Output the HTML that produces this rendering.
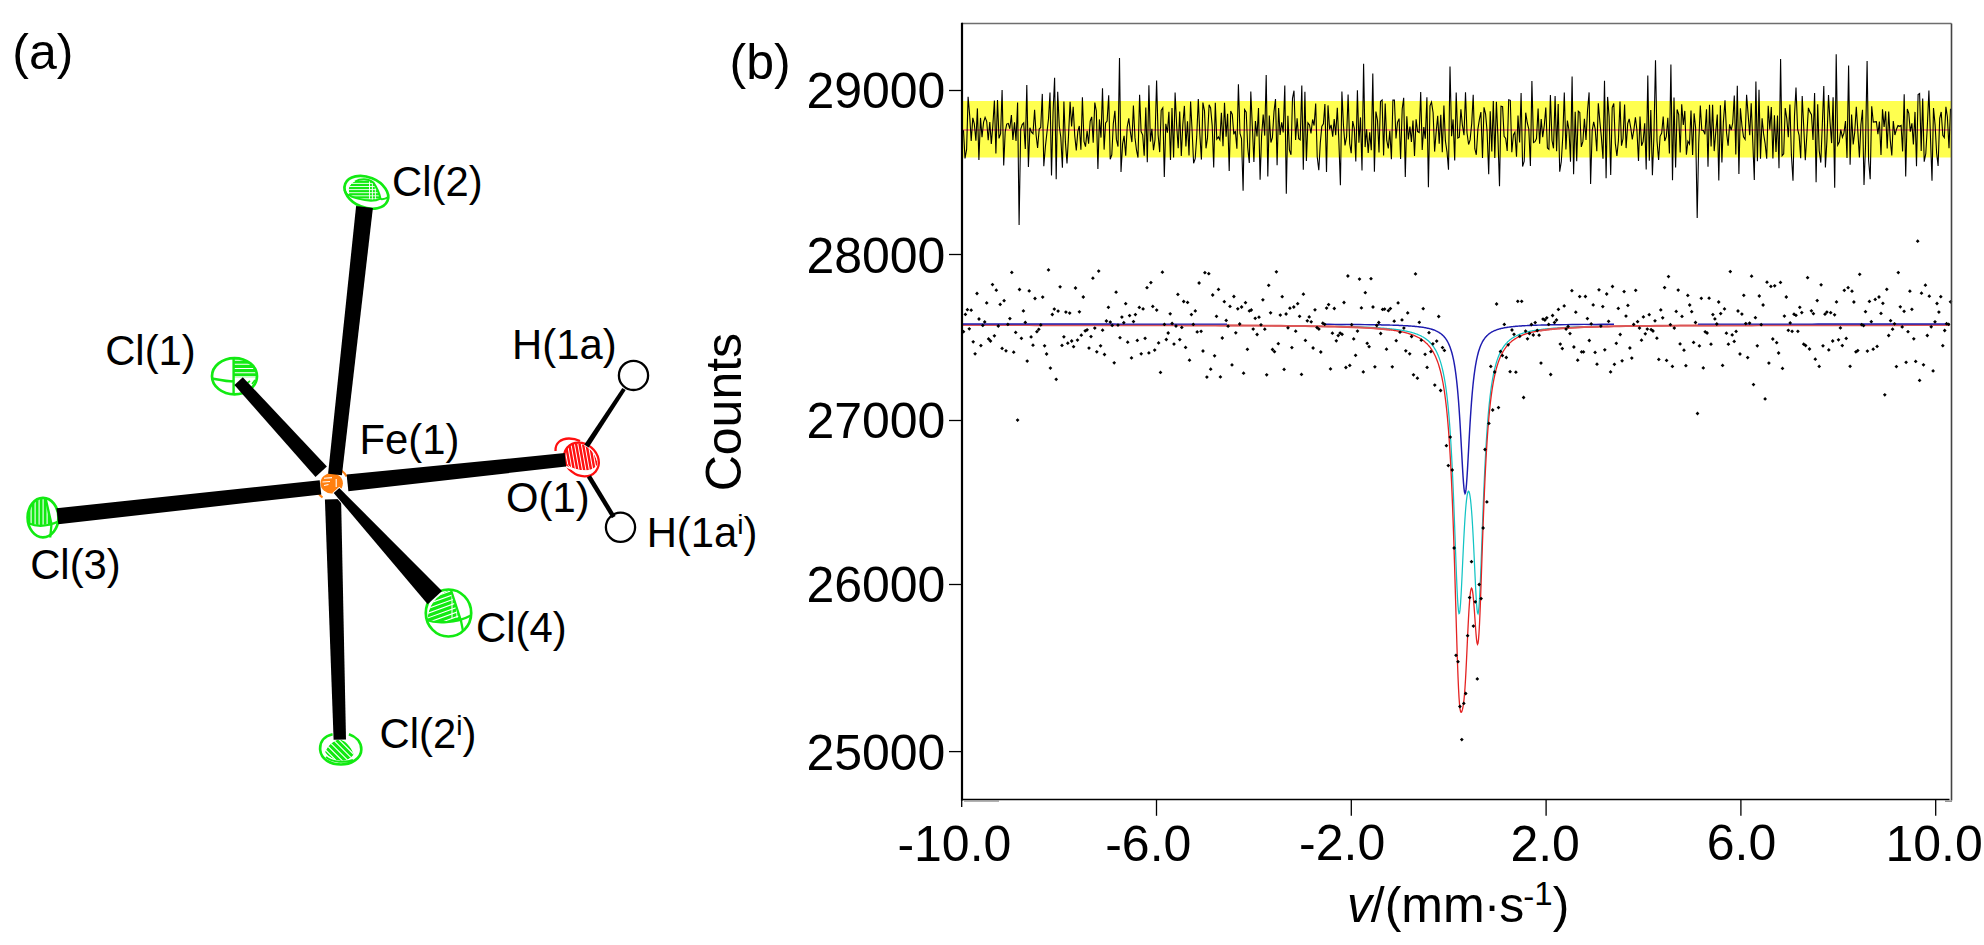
<!DOCTYPE html>
<html><head><meta charset="utf-8"><title>Figure</title><style>html,body{margin:0;padding:0;background:#fff;overflow:hidden}svg{display:block}</style></head><body>
<svg width="1984" height="945" viewBox="0 0 1984 945">
<rect width="1984" height="945" fill="#fff"/>
<rect x="963" y="101" width="988.5" height="56.5" fill="#ffff4f"/>
<line x1="963" y1="130" x2="1950.5" y2="130" stroke="#f06a6a" stroke-width="1.4"/>
<polyline fill="none" stroke="#000" stroke-width="1.1" points="963.5,130.2 965.0,158.5 966.6,149.4 968.1,96.8 969.7,115.7 971.2,141.0 972.8,117.9 974.3,123.8 975.9,140.8 977.4,108.4 978.9,160.0 980.5,117.9 982.0,137.1 983.6,122.0 985.1,117.3 986.7,121.3 988.2,140.2 989.8,122.0 991.3,143.9 992.8,126.1 994.4,100.6 995.9,153.5 997.5,99.9 999.0,138.4 1000.6,133.6 1002.1,89.9 1003.7,165.6 1005.2,131.8 1006.7,124.1 1008.3,123.4 1009.8,128.8 1011.4,115.0 1012.9,140.0 1014.5,122.4 1016.0,140.9 1017.6,102.5 1019.1,225.0 1020.7,129.3 1022.2,124.6 1023.7,122.8 1025.3,149.0 1026.8,85.1 1028.4,166.9 1029.9,127.8 1031.5,132.2 1033.0,133.7 1034.6,109.7 1036.1,135.0 1037.6,148.0 1039.2,129.0 1040.7,127.5 1042.3,93.9 1043.8,166.2 1045.4,146.5 1046.9,132.9 1048.5,118.7 1050.0,92.6 1051.5,175.6 1053.1,111.6 1054.6,77.7 1056.2,179.2 1057.7,91.7 1059.3,126.2 1060.8,137.3 1062.4,167.8 1063.9,101.4 1065.4,141.9 1067.0,163.4 1068.5,136.1 1070.1,101.9 1071.6,126.5 1073.2,106.7 1074.7,135.4 1076.3,150.4 1077.8,131.7 1079.3,126.0 1080.9,149.7 1082.4,97.2 1084.0,141.3 1085.5,146.7 1087.1,130.8 1088.6,143.7 1090.2,121.2 1091.7,116.9 1093.2,142.8 1094.8,102.5 1096.3,110.8 1097.9,169.1 1099.4,119.4 1101.0,137.6 1102.5,88.3 1104.1,149.6 1105.6,123.0 1107.1,121.1 1108.7,95.3 1110.2,159.3 1111.8,154.8 1113.3,123.7 1114.9,110.8 1116.4,139.4 1118.0,146.6 1119.5,58.1 1121.0,172.0 1122.6,143.8 1124.1,135.9 1125.7,155.7 1127.2,127.0 1128.8,118.4 1130.3,131.5 1131.9,142.1 1133.4,105.6 1135.0,137.9 1136.5,150.2 1138.0,157.6 1139.6,94.8 1141.1,131.5 1142.7,135.1 1144.2,155.8 1145.8,107.6 1147.3,162.2 1148.9,85.3 1150.4,141.6 1151.9,128.7 1153.5,150.2 1155.0,139.8 1156.6,80.5 1158.1,134.7 1159.7,152.1 1161.2,110.3 1162.8,107.8 1164.3,177.1 1165.8,123.8 1167.4,132.7 1168.9,111.7 1170.5,159.9 1172.0,108.1 1173.6,157.6 1175.1,92.5 1176.7,126.3 1178.2,148.3 1179.7,111.5 1181.3,156.0 1182.8,124.7 1184.4,105.9 1185.9,146.5 1187.5,121.2 1189.0,155.5 1190.6,101.5 1192.1,130.8 1193.6,163.3 1195.2,158.7 1196.7,136.9 1198.3,99.0 1199.8,133.7 1201.4,159.6 1202.9,102.5 1204.5,110.9 1206.0,148.3 1207.5,137.9 1209.1,104.8 1210.6,107.9 1212.2,125.6 1213.7,167.6 1215.3,102.8 1216.8,139.2 1218.4,136.9 1219.9,139.9 1221.4,112.7 1223.0,146.2 1224.5,102.7 1226.1,136.6 1227.6,113.7 1229.2,171.0 1230.7,111.1 1232.3,114.5 1233.8,134.4 1235.3,130.9 1236.9,148.7 1238.4,84.2 1240.0,133.4 1241.5,138.6 1243.1,190.8 1244.6,109.6 1246.2,112.1 1247.7,147.2 1249.3,162.9 1250.8,91.6 1252.3,125.9 1253.9,162.1 1255.4,121.0 1257.0,136.5 1258.5,108.1 1260.1,179.8 1261.6,135.8 1263.2,114.5 1264.7,135.6 1266.2,75.1 1267.8,176.6 1269.3,115.5 1270.9,142.5 1272.4,137.7 1274.0,111.6 1275.5,99.0 1277.1,165.3 1278.6,108.0 1280.1,134.9 1281.7,122.3 1283.2,132.4 1284.8,85.6 1286.3,193.7 1287.9,115.8 1289.4,149.9 1291.0,154.8 1292.5,98.4 1294.0,90.7 1295.6,139.9 1297.1,118.4 1298.7,138.7 1300.2,139.9 1301.8,85.5 1303.3,169.8 1304.9,91.8 1306.4,160.9 1307.9,122.8 1309.5,125.0 1311.0,133.5 1312.6,119.5 1314.1,125.5 1315.7,103.6 1317.2,156.6 1318.8,170.3 1320.3,142.9 1321.8,126.5 1323.4,123.8 1324.9,104.0 1326.5,172.1 1328.0,105.4 1329.6,129.4 1331.1,124.8 1332.7,136.7 1334.2,119.1 1335.7,135.2 1337.3,107.9 1338.8,139.5 1340.4,185.3 1341.9,91.6 1343.5,126.0 1345.0,145.4 1346.6,136.7 1348.1,94.5 1349.7,143.6 1351.2,153.2 1352.7,121.0 1354.3,128.3 1355.8,161.6 1357.4,90.2 1358.9,142.8 1360.5,117.4 1362.0,170.6 1363.6,63.7 1365.1,147.1 1366.6,129.4 1368.2,152.9 1369.7,132.3 1371.3,150.3 1372.8,73.4 1374.4,171.7 1375.9,111.5 1377.5,120.4 1379.0,152.4 1380.5,101.4 1382.1,100.0 1383.6,155.6 1385.2,103.6 1386.7,140.2 1388.3,148.5 1389.8,130.7 1391.4,159.2 1392.9,100.0 1394.4,100.1 1396.0,138.5 1397.5,122.4 1399.1,118.6 1400.6,159.1 1402.2,109.0 1403.7,97.7 1405.3,177.1 1406.8,116.3 1408.3,139.5 1409.9,126.5 1411.4,141.9 1413.0,120.6 1414.5,156.1 1416.1,119.2 1417.6,131.6 1419.2,132.5 1420.7,91.9 1422.2,150.0 1423.8,127.1 1425.3,138.7 1426.9,97.3 1428.4,187.3 1430.0,105.8 1431.5,102.1 1433.1,112.7 1434.6,151.6 1436.1,132.6 1437.7,115.9 1439.2,143.6 1440.8,114.7 1442.3,152.3 1443.9,105.4 1445.4,140.9 1447.0,151.8 1448.5,169.7 1450.0,66.6 1451.6,136.3 1453.1,119.4 1454.7,160.5 1456.2,92.5 1457.8,138.1 1459.3,137.2 1460.9,109.3 1462.4,125.2 1464.0,135.2 1465.5,92.3 1467.0,132.8 1468.6,144.5 1470.1,139.9 1471.7,123.6 1473.2,94.7 1474.8,148.7 1476.3,154.8 1477.9,129.1 1479.4,119.3 1480.9,112.1 1482.5,158.0 1484.0,107.3 1485.6,114.1 1487.1,131.6 1488.7,174.3 1490.2,111.3 1491.8,151.5 1493.3,100.9 1494.8,158.0 1496.4,101.8 1497.9,136.3 1499.5,186.3 1501.0,106.3 1502.6,106.7 1504.1,136.3 1505.7,138.4 1507.2,150.9 1508.7,99.8 1510.3,100.3 1511.8,152.2 1513.4,134.9 1514.9,132.1 1516.5,156.7 1518.0,115.5 1519.6,142.4 1521.1,93.0 1522.6,166.6 1524.2,161.2 1525.7,112.7 1527.3,123.0 1528.8,129.2 1530.4,166.1 1531.9,81.0 1533.5,142.6 1535.0,141.7 1536.5,138.6 1538.1,108.5 1539.6,143.7 1541.2,119.0 1542.7,137.1 1544.3,125.2 1545.8,107.5 1547.4,148.0 1548.9,149.3 1550.4,94.9 1552.0,140.5 1553.5,148.3 1555.1,96.1 1556.6,151.3 1558.2,104.1 1559.7,171.7 1561.3,161.6 1562.8,136.2 1564.3,92.5 1565.9,149.5 1567.4,120.6 1569.0,130.2 1570.5,161.8 1572.1,76.4 1573.6,174.2 1575.2,111.8 1576.7,161.2 1578.3,111.2 1579.8,112.4 1581.3,146.9 1582.9,141.4 1584.4,118.8 1586.0,140.0 1587.5,110.8 1589.1,92.4 1590.6,184.0 1592.2,130.5 1593.7,121.9 1595.2,129.1 1596.8,151.3 1598.3,103.3 1599.9,122.1 1601.4,137.4 1603.0,158.7 1604.5,80.8 1606.1,178.2 1607.6,96.9 1609.1,116.6 1610.7,175.0 1612.2,107.5 1613.8,103.5 1615.3,143.3 1616.9,155.9 1618.4,140.7 1620.0,101.5 1621.5,145.7 1623.0,138.8 1624.6,104.5 1626.1,148.1 1627.7,123.6 1629.2,118.9 1630.8,128.1 1632.3,139.4 1633.9,129.6 1635.4,117.3 1636.9,130.0 1638.5,160.9 1640.0,116.6 1641.6,145.7 1643.1,141.6 1644.7,123.2 1646.2,169.5 1647.8,75.4 1649.3,160.8 1650.8,110.0 1652.4,175.2 1653.9,136.7 1655.5,60.2 1657.0,140.7 1658.6,160.0 1660.1,136.3 1661.7,133.1 1663.2,116.5 1664.7,141.0 1666.3,136.7 1667.8,117.7 1669.4,153.5 1670.9,64.6 1672.5,180.3 1674.0,97.4 1675.6,167.5 1677.1,109.5 1678.7,114.5 1680.2,152.5 1681.7,104.3 1683.3,125.0 1684.8,110.9 1686.4,154.8 1687.9,141.2 1689.5,144.0 1691.0,110.4 1692.6,154.9 1694.1,113.4 1695.6,127.7 1697.2,218.0 1698.7,143.6 1700.3,105.5 1701.8,130.3 1703.4,130.5 1704.9,134.4 1706.5,109.2 1708.0,166.8 1709.5,104.7 1711.1,146.5 1712.6,104.7 1714.2,151.1 1715.7,132.6 1717.3,114.6 1718.8,180.5 1720.4,105.3 1721.9,162.4 1723.4,121.9 1725.0,100.2 1726.5,132.5 1728.1,145.6 1729.6,124.3 1731.2,130.1 1732.7,123.0 1734.3,95.6 1735.8,154.4 1737.3,85.7 1738.9,174.0 1740.4,108.3 1742.0,126.3 1743.5,136.9 1745.1,139.4 1746.6,94.7 1748.2,115.4 1749.7,135.3 1751.2,103.2 1752.8,142.2 1754.3,180.0 1755.9,81.4 1757.4,161.2 1759.0,89.8 1760.5,158.7 1762.1,118.2 1763.6,133.9 1765.1,143.3 1766.7,158.7 1768.2,105.8 1769.8,129.5 1771.3,107.0 1772.9,158.4 1774.4,115.2 1776.0,152.0 1777.5,115.6 1779.0,168.3 1780.6,59.0 1782.1,155.7 1783.7,153.8 1785.2,108.1 1786.8,118.6 1788.3,137.1 1789.9,104.5 1791.4,154.9 1793.0,180.8 1794.5,115.2 1796.0,87.5 1797.6,129.1 1799.1,135.4 1800.7,158.3 1802.2,96.0 1803.8,128.4 1805.3,160.3 1806.9,134.3 1808.4,107.9 1809.9,111.9 1811.5,114.6 1813.0,140.0 1814.6,93.1 1816.1,182.3 1817.7,104.2 1819.2,150.6 1820.8,162.6 1822.3,125.1 1823.8,86.1 1825.4,167.4 1826.9,140.9 1828.5,95.1 1830.0,121.5 1831.6,143.1 1833.1,97.2 1834.7,187.7 1836.2,54.2 1837.7,145.1 1839.3,142.1 1840.8,129.5 1842.4,137.3 1843.9,133.2 1845.5,121.0 1847.0,158.0 1848.6,65.4 1850.1,164.7 1851.6,114.6 1853.2,144.4 1854.7,132.6 1856.3,106.7 1857.8,130.9 1859.4,157.5 1860.9,124.7 1862.5,109.7 1864.0,185.1 1865.5,146.8 1867.1,61.0 1868.6,160.2 1870.2,179.3 1871.7,106.3 1873.3,122.1 1874.8,121.9 1876.4,121.7 1877.9,134.2 1879.4,121.5 1881.0,155.0 1882.5,109.3 1884.1,126.9 1885.6,111.2 1887.2,148.4 1888.7,111.5 1890.3,140.6 1891.8,155.4 1893.3,121.0 1894.9,135.0 1896.4,129.5 1898.0,125.5 1899.5,126.3 1901.1,125.4 1902.6,151.4 1904.2,94.3 1905.7,176.5 1907.3,109.0 1908.8,113.3 1910.3,131.6 1911.9,123.3 1913.4,144.4 1915.0,111.9 1916.5,166.3 1918.1,94.6 1919.6,93.6 1921.2,151.0 1922.7,98.5 1924.2,161.7 1925.8,153.5 1927.3,126.8 1928.9,90.6 1930.4,135.2 1932.0,180.8 1933.5,108.1 1935.1,124.9 1936.6,152.7 1938.1,165.9 1939.7,118.3 1941.2,112.0 1942.8,135.4 1944.3,137.6 1945.9,106.8 1947.4,117.1 1949.0,148.3 1950.5,108.7"/>
<polyline fill="none" stroke="#12c4c4" stroke-width="1.25" points="1335.0,326.3 1341.0,326.4 1347.0,326.5 1353.0,326.7 1359.0,326.9 1365.0,327.1 1371.0,327.4 1377.0,327.7 1380.0,327.9 1380.5,328.0 1381.0,328.0 1381.5,328.1 1382.0,328.1 1382.5,328.1 1383.0,328.2 1383.5,328.2 1384.0,328.2 1384.5,328.3 1385.0,328.3 1385.5,328.4 1386.0,328.4 1386.5,328.4 1387.0,328.5 1387.5,328.5 1388.0,328.6 1388.5,328.6 1389.0,328.7 1389.5,328.7 1390.0,328.8 1390.5,328.8 1391.0,328.9 1391.5,328.9 1392.0,329.0 1392.5,329.0 1393.0,329.1 1393.5,329.1 1394.0,329.2 1394.5,329.3 1395.0,329.3 1395.5,329.4 1396.0,329.4 1396.5,329.5 1397.0,329.6 1397.5,329.6 1398.0,329.7 1398.5,329.8 1399.0,329.9 1399.5,329.9 1400.0,330.0 1400.5,330.1 1401.0,330.2 1401.5,330.2 1402.0,330.3 1402.5,330.4 1403.0,330.5 1403.5,330.6 1404.0,330.7 1404.5,330.8 1405.0,330.9 1405.5,331.0 1406.0,331.1 1406.5,331.2 1407.0,331.3 1407.5,331.4 1408.0,331.5 1408.5,331.6 1409.0,331.7 1409.5,331.9 1410.0,332.0 1410.5,332.1 1411.0,332.2 1411.5,332.4 1412.0,332.5 1412.5,332.7 1413.0,332.8 1413.5,333.0 1414.0,333.1 1414.5,333.3 1415.0,333.5 1415.5,333.6 1416.0,333.8 1416.5,334.0 1417.0,334.2 1417.5,334.4 1418.0,334.6 1418.5,334.8 1419.0,335.0 1419.5,335.2 1420.0,335.5 1420.5,335.7 1421.0,335.9 1421.5,336.2 1422.0,336.5 1422.5,336.7 1423.0,337.0 1423.5,337.3 1424.0,337.6 1424.5,338.0 1425.0,338.3 1425.5,338.6 1426.0,339.0 1426.5,339.4 1427.0,339.8 1427.5,340.2 1428.0,340.6 1428.5,341.0 1429.0,341.5 1429.5,342.0 1430.0,342.5 1430.5,343.0 1431.0,343.6 1431.5,344.1 1432.0,344.7 1432.5,345.4 1433.0,346.0 1433.5,346.7 1434.0,347.5 1434.5,348.3 1435.0,349.1 1435.5,349.9 1436.0,350.8 1436.5,351.8 1437.0,352.8 1437.5,353.9 1438.0,355.0 1438.5,356.3 1439.0,357.5 1439.5,358.9 1440.0,360.4 1440.5,361.9 1441.0,363.6 1441.5,365.4 1442.0,367.3 1442.5,369.3 1443.0,371.5 1443.5,373.8 1444.0,376.4 1444.5,379.1 1445.0,382.0 1445.5,385.2 1446.0,388.6 1446.5,392.4 1447.0,396.4 1447.5,400.8 1448.0,405.6 1448.5,410.9 1449.0,416.6 1449.5,422.8 1450.0,429.6 1450.5,437.0 1451.0,445.0 1451.5,453.8 1452.0,463.3 1452.5,473.7 1453.0,484.8 1453.5,496.6 1454.0,509.2 1454.5,522.4 1455.0,536.0 1455.5,549.7 1456.0,563.2 1456.5,576.1 1457.0,587.9 1457.5,598.0 1458.0,605.9 1458.5,611.2 1459.0,613.6 1459.5,613.2 1460.0,609.9 1460.5,604.1 1461.0,596.3 1461.5,587.0 1462.0,576.7 1462.5,566.0 1463.0,555.2 1463.5,544.8 1464.0,535.1 1464.5,526.1 1465.0,518.0 1465.5,511.0 1466.0,505.0 1466.5,500.1 1467.0,496.3 1467.5,493.5 1468.0,491.8 1468.5,491.2 1469.0,491.7 1469.5,493.2 1470.0,495.8 1470.5,499.4 1471.0,504.2 1471.5,510.0 1472.0,516.8 1472.5,524.7 1473.0,533.6 1473.5,543.2 1474.0,553.5 1474.5,564.2 1475.0,575.0 1475.5,585.4 1476.0,594.9 1476.5,603.0 1477.0,609.1 1477.5,612.8 1478.0,613.8 1478.5,611.8 1479.0,606.9 1479.5,599.4 1480.0,589.6 1480.5,578.1 1481.0,565.4 1481.5,551.9 1482.0,538.2 1482.5,524.5 1483.0,511.3 1483.5,498.6 1484.0,486.6 1484.5,475.4 1485.0,464.9 1485.5,455.3 1486.0,446.4 1486.5,438.2 1487.0,430.7 1487.5,423.8 1488.0,417.5 1488.5,411.7 1489.0,406.4 1489.5,401.6 1490.0,397.1 1490.5,393.0 1491.0,389.2 1491.5,385.7 1492.0,382.5 1492.5,379.5 1493.0,376.8 1493.5,374.2 1494.0,371.8 1494.5,369.6 1495.0,367.6 1495.5,365.7 1496.0,363.9 1496.5,362.2 1497.0,360.6 1497.5,359.1 1498.0,357.8 1498.5,356.5 1499.0,355.2 1499.5,354.1 1500.0,353.0 1500.5,352.0 1501.0,351.0 1501.5,350.1 1502.0,349.2 1502.5,348.4 1503.0,347.6 1503.5,346.9 1504.0,346.1 1504.5,345.5 1505.0,344.8 1505.5,344.2 1506.0,343.6 1506.5,343.1 1507.0,342.6 1507.5,342.0 1508.0,341.6 1508.5,341.1 1509.0,340.7 1509.5,340.2 1510.0,339.8 1510.5,339.4 1511.0,339.1 1511.5,338.7 1512.0,338.3 1512.5,338.0 1513.0,337.7 1513.5,337.4 1514.0,337.1 1514.5,336.8 1515.0,336.5 1515.5,336.2 1516.0,336.0 1516.5,335.7 1517.0,335.5 1517.5,335.3 1518.0,335.0 1518.5,334.8 1519.0,334.6 1519.5,334.4 1520.0,334.2 1520.5,334.0 1521.0,333.8 1521.5,333.7 1522.0,333.5 1522.5,333.3 1523.0,333.2 1523.5,333.0 1524.0,332.8 1524.5,332.7 1525.0,332.5 1525.5,332.4 1526.0,332.3 1526.5,332.1 1527.0,332.0 1527.5,331.9 1528.0,331.8 1528.5,331.6 1529.0,331.5 1529.5,331.4 1530.0,331.3 1530.5,331.2 1531.0,331.1 1531.5,331.0 1532.0,330.9 1532.5,330.8 1533.0,330.7 1533.5,330.6 1534.0,330.5 1534.5,330.4 1535.0,330.3 1535.5,330.3 1536.0,330.2 1536.5,330.1 1537.0,330.0 1537.5,329.9 1538.0,329.9 1538.5,329.8 1539.0,329.7 1539.5,329.7 1540.0,329.6 1540.5,329.5 1541.0,329.5 1541.5,329.4 1542.0,329.3 1542.5,329.3 1543.0,329.2 1543.5,329.2 1544.0,329.1 1544.5,329.0 1545.0,329.0 1545.5,328.9 1546.0,328.9 1546.5,328.8 1547.0,328.8 1547.5,328.7 1548.0,328.7 1548.5,328.6 1549.0,328.6 1549.5,328.5 1550.0,328.5 1550.5,328.5 1551.0,328.4 1551.5,328.4 1552.0,328.3 1552.5,328.3 1553.0,328.2 1553.5,328.2 1554.0,328.2 1554.5,328.1 1555.0,328.1 1555.5,328.1 1556.0,328.0 1556.5,328.0 1557.0,328.0 1557.5,327.9 1558.0,327.9 1558.5,327.8 1559.0,327.8 1559.5,327.8 1560.0,327.8 1566.0,327.4 1572.0,327.1 1578.0,326.9 1584.0,326.7 1590.0,326.5 1596.0,326.4 1602.0,326.3 1608.0,326.2"/>
<polyline fill="none" stroke="#e42222" stroke-width="1.3" points="963.0,325.1 969.0,325.1 975.0,325.1 981.0,325.1 987.0,325.1 993.0,325.1 999.0,325.1 1005.0,325.1 1011.0,325.1 1017.0,325.1 1023.0,325.1 1029.0,325.1 1035.0,325.2 1041.0,325.2 1047.0,325.2 1053.0,325.2 1059.0,325.2 1065.0,325.2 1071.0,325.2 1077.0,325.2 1083.0,325.2 1089.0,325.2 1095.0,325.2 1101.0,325.2 1107.0,325.2 1113.0,325.2 1119.0,325.2 1125.0,325.2 1131.0,325.3 1137.0,325.3 1143.0,325.3 1149.0,325.3 1155.0,325.3 1161.0,325.3 1167.0,325.3 1173.0,325.3 1179.0,325.3 1185.0,325.4 1191.0,325.4 1197.0,325.4 1203.0,325.4 1209.0,325.4 1215.0,325.4 1221.0,325.5 1227.0,325.5 1233.0,325.5 1239.0,325.5 1245.0,325.6 1251.0,325.6 1257.0,325.6 1263.0,325.7 1269.0,325.7 1275.0,325.8 1281.0,325.8 1287.0,325.9 1293.0,325.9 1299.0,326.0 1305.0,326.1 1311.0,326.2 1317.0,326.3 1323.0,326.4 1329.0,326.5 1335.0,326.6 1341.0,326.8 1347.0,327.0 1353.0,327.2 1359.0,327.4 1365.0,327.7 1371.0,328.1 1377.0,328.5 1380.0,328.8 1380.5,328.8 1381.0,328.9 1381.5,328.9 1382.0,329.0 1382.5,329.0 1383.0,329.1 1383.5,329.1 1384.0,329.2 1384.5,329.2 1385.0,329.3 1385.5,329.3 1386.0,329.4 1386.5,329.4 1387.0,329.5 1387.5,329.5 1388.0,329.6 1388.5,329.6 1389.0,329.7 1389.5,329.8 1390.0,329.8 1390.5,329.9 1391.0,330.0 1391.5,330.0 1392.0,330.1 1392.5,330.2 1393.0,330.2 1393.5,330.3 1394.0,330.4 1394.5,330.5 1395.0,330.5 1395.5,330.6 1396.0,330.7 1396.5,330.8 1397.0,330.9 1397.5,331.0 1398.0,331.0 1398.5,331.1 1399.0,331.2 1399.5,331.3 1400.0,331.4 1400.5,331.5 1401.0,331.6 1401.5,331.7 1402.0,331.8 1402.5,331.9 1403.0,332.1 1403.5,332.2 1404.0,332.3 1404.5,332.4 1405.0,332.5 1405.5,332.7 1406.0,332.8 1406.5,332.9 1407.0,333.1 1407.5,333.2 1408.0,333.3 1408.5,333.5 1409.0,333.6 1409.5,333.8 1410.0,334.0 1410.5,334.1 1411.0,334.3 1411.5,334.5 1412.0,334.6 1412.5,334.8 1413.0,335.0 1413.5,335.2 1414.0,335.4 1414.5,335.6 1415.0,335.8 1415.5,336.1 1416.0,336.3 1416.5,336.5 1417.0,336.8 1417.5,337.0 1418.0,337.3 1418.5,337.5 1419.0,337.8 1419.5,338.1 1420.0,338.4 1420.5,338.7 1421.0,339.0 1421.5,339.3 1422.0,339.7 1422.5,340.0 1423.0,340.4 1423.5,340.7 1424.0,341.1 1424.5,341.5 1425.0,342.0 1425.5,342.4 1426.0,342.9 1426.5,343.3 1427.0,343.8 1427.5,344.3 1428.0,344.9 1428.5,345.4 1429.0,346.0 1429.5,346.6 1430.0,347.2 1430.5,347.9 1431.0,348.6 1431.5,349.3 1432.0,350.1 1432.5,350.9 1433.0,351.7 1433.5,352.6 1434.0,353.5 1434.5,354.5 1435.0,355.5 1435.5,356.6 1436.0,357.7 1436.5,358.9 1437.0,360.2 1437.5,361.5 1438.0,362.9 1438.5,364.4 1439.0,366.0 1439.5,367.7 1440.0,369.5 1440.5,371.4 1441.0,373.4 1441.5,375.6 1442.0,377.9 1442.5,380.4 1443.0,383.0 1443.5,385.9 1444.0,388.9 1444.5,392.2 1445.0,395.8 1445.5,399.6 1446.0,403.8 1446.5,408.3 1447.0,413.1 1447.5,418.4 1448.0,424.1 1448.5,430.3 1449.0,437.1 1449.5,444.5 1450.0,452.6 1450.5,461.3 1451.0,470.9 1451.5,481.3 1452.0,492.6 1452.5,504.9 1453.0,518.1 1453.5,532.3 1454.0,547.4 1454.5,563.4 1455.0,580.1 1455.5,597.3 1456.0,614.6 1456.5,631.6 1457.0,647.9 1457.5,663.1 1458.0,676.6 1458.5,688.0 1459.0,697.2 1459.5,704.0 1460.0,708.6 1460.5,711.3 1461.0,712.3 1461.5,712.2 1462.0,711.1 1462.5,709.4 1463.0,706.9 1463.5,703.7 1464.0,699.6 1464.5,694.3 1465.0,687.7 1465.5,679.7 1466.0,670.4 1466.5,660.3 1467.0,649.5 1467.5,638.6 1468.0,628.1 1468.5,618.3 1469.0,609.5 1469.5,602.1 1470.0,596.1 1470.5,591.8 1471.0,589.1 1471.5,588.1 1472.0,588.7 1472.5,590.9 1473.0,594.6 1473.5,599.6 1474.0,605.7 1474.5,612.5 1475.0,619.8 1475.5,627.0 1476.0,633.6 1476.5,639.1 1477.0,642.9 1477.5,644.4 1478.0,643.4 1478.5,639.6 1479.0,633.1 1479.5,624.1 1480.0,612.9 1480.5,600.1 1481.0,586.1 1481.5,571.6 1482.0,556.8 1482.5,542.3 1483.0,528.1 1483.5,514.6 1484.0,501.9 1484.5,489.9 1485.0,478.8 1485.5,468.6 1486.0,459.1 1486.5,450.4 1487.0,442.3 1487.5,435.0 1488.0,428.2 1488.5,422.0 1489.0,416.3 1489.5,411.1 1490.0,406.3 1490.5,401.8 1491.0,397.7 1491.5,393.9 1492.0,390.4 1492.5,387.2 1493.0,384.2 1493.5,381.3 1494.0,378.7 1494.5,376.3 1495.0,374.0 1495.5,371.9 1496.0,369.9 1496.5,368.1 1497.0,366.3 1497.5,364.7 1498.0,363.1 1498.5,361.7 1499.0,360.3 1499.5,359.0 1500.0,357.8 1500.5,356.6 1501.0,355.5 1501.5,354.5 1502.0,353.5 1502.5,352.6 1503.0,351.7 1503.5,350.8 1504.0,350.0 1504.5,349.3 1505.0,348.5 1505.5,347.8 1506.0,347.2 1506.5,346.5 1507.0,345.9 1507.5,345.3 1508.0,344.8 1508.5,344.2 1509.0,343.7 1509.5,343.2 1510.0,342.7 1510.5,342.3 1511.0,341.9 1511.5,341.4 1512.0,341.0 1512.5,340.6 1513.0,340.3 1513.5,339.9 1514.0,339.6 1514.5,339.2 1515.0,338.9 1515.5,338.6 1516.0,338.3 1516.5,338.0 1517.0,337.7 1517.5,337.4 1518.0,337.2 1518.5,336.9 1519.0,336.7 1519.5,336.4 1520.0,336.2 1520.5,336.0 1521.0,335.7 1521.5,335.5 1522.0,335.3 1522.5,335.1 1523.0,334.9 1523.5,334.7 1524.0,334.6 1524.5,334.4 1525.0,334.2 1525.5,334.0 1526.0,333.9 1526.5,333.7 1527.0,333.6 1527.5,333.4 1528.0,333.3 1528.5,333.1 1529.0,333.0 1529.5,332.9 1530.0,332.7 1530.5,332.6 1531.0,332.5 1531.5,332.3 1532.0,332.2 1532.5,332.1 1533.0,332.0 1533.5,331.9 1534.0,331.8 1534.5,331.7 1535.0,331.6 1535.5,331.5 1536.0,331.4 1536.5,331.3 1537.0,331.2 1537.5,331.1 1538.0,331.0 1538.5,330.9 1539.0,330.8 1539.5,330.7 1540.0,330.7 1540.5,330.6 1541.0,330.5 1541.5,330.4 1542.0,330.3 1542.5,330.3 1543.0,330.2 1543.5,330.1 1544.0,330.1 1544.5,330.0 1545.0,329.9 1545.5,329.9 1546.0,329.8 1546.5,329.7 1547.0,329.7 1547.5,329.6 1548.0,329.6 1548.5,329.5 1549.0,329.4 1549.5,329.4 1550.0,329.3 1550.5,329.3 1551.0,329.2 1551.5,329.2 1552.0,329.1 1552.5,329.1 1553.0,329.0 1553.5,329.0 1554.0,328.9 1554.5,328.9 1555.0,328.8 1555.5,328.8 1556.0,328.7 1556.5,328.7 1557.0,328.7 1557.5,328.6 1558.0,328.6 1558.5,328.5 1559.0,328.5 1559.5,328.5 1560.0,328.4 1566.0,328.0 1572.0,327.7 1578.0,327.4 1584.0,327.1 1590.0,326.9 1596.0,326.8 1602.0,326.6 1608.0,326.5 1614.0,326.3 1620.0,326.2 1626.0,326.1 1632.0,326.1 1638.0,326.0 1644.0,325.9 1650.0,325.9 1656.0,325.8 1662.0,325.8 1668.0,325.7 1674.0,325.7 1680.0,325.6 1686.0,325.6 1692.0,325.6 1698.0,325.5 1704.0,325.5 1710.0,325.5 1716.0,325.5 1722.0,325.4 1728.0,325.4 1734.0,325.4 1740.0,325.4 1746.0,325.4 1752.0,325.4 1758.0,325.3 1764.0,325.3 1770.0,325.3 1776.0,325.3 1782.0,325.3 1788.0,325.3 1794.0,325.3 1800.0,325.3 1806.0,325.2 1812.0,325.2 1818.0,325.2 1824.0,325.2 1830.0,325.2 1836.0,325.2 1842.0,325.2 1848.0,325.2 1854.0,325.2 1860.0,325.2 1866.0,325.2 1872.0,325.2 1878.0,325.2 1884.0,325.2 1890.0,325.2 1896.0,325.2 1902.0,325.2 1908.0,325.1 1914.0,325.1 1920.0,325.1 1926.0,325.1 1932.0,325.1 1938.0,325.1 1944.0,325.1 1949.5,325.1"/>
<polyline fill="none" stroke="#dc5656" stroke-width="2.0" points="963.0,325.1 969.0,325.1 975.0,325.1 981.0,325.1 987.0,325.1 993.0,325.1 999.0,325.1 1005.0,325.1 1011.0,325.1 1017.0,325.1 1023.0,325.1 1029.0,325.1 1035.0,325.2 1041.0,325.2 1047.0,325.2 1053.0,325.2 1059.0,325.2 1065.0,325.2 1071.0,325.2 1077.0,325.2 1083.0,325.2 1089.0,325.2 1095.0,325.2 1101.0,325.2 1107.0,325.2 1113.0,325.2 1119.0,325.2 1125.0,325.2 1131.0,325.3 1137.0,325.3 1143.0,325.3 1149.0,325.3 1155.0,325.3 1161.0,325.3 1167.0,325.3 1173.0,325.3 1179.0,325.3 1185.0,325.4 1191.0,325.4 1197.0,325.4 1203.0,325.4 1209.0,325.4 1215.0,325.4 1221.0,325.5 1227.0,325.5 1233.0,325.5 1239.0,325.5 1245.0,325.6 1251.0,325.6 1257.0,325.6 1263.0,325.7 1269.0,325.7 1275.0,325.8 1281.0,325.8 1287.0,325.9 1293.0,325.9 1299.0,326.0 1305.0,326.1 1311.0,326.2 1317.0,326.3 1323.0,326.4 1329.0,326.5 1335.0,326.6 1341.0,326.8 1347.0,327.0 1353.0,327.2 1359.0,327.4 1365.0,327.7 1371.0,328.1 1377.0,328.5 1380.0,328.8 1380.5,328.8 1381.0,328.9 1381.5,328.9 1382.0,329.0 1382.5,329.0 1383.0,329.1 1383.5,329.1 1384.0,329.2 1384.5,329.2 1385.0,329.3 1385.5,329.3 1386.0,329.4 1386.5,329.4 1387.0,329.5 1387.5,329.5 1388.0,329.6 1388.5,329.6 1389.0,329.7 1389.5,329.8 1390.0,329.8"/>
<polyline fill="none" stroke="#dc5656" stroke-width="2.0" points="1540.0,330.7 1540.5,330.6 1541.0,330.5 1541.5,330.4 1542.0,330.3 1542.5,330.3 1543.0,330.2 1543.5,330.1 1544.0,330.1 1544.5,330.0 1545.0,329.9 1545.5,329.9 1546.0,329.8 1546.5,329.7 1547.0,329.7 1547.5,329.6 1548.0,329.6 1548.5,329.5 1549.0,329.4 1549.5,329.4 1550.0,329.3 1550.5,329.3 1551.0,329.2 1551.5,329.2 1552.0,329.1 1552.5,329.1 1553.0,329.0 1553.5,329.0 1554.0,328.9 1554.5,328.9 1555.0,328.8 1555.5,328.8 1556.0,328.7 1556.5,328.7 1557.0,328.7 1557.5,328.6 1558.0,328.6 1558.5,328.5 1559.0,328.5 1559.5,328.5 1560.0,328.4 1566.0,328.0 1572.0,327.7 1578.0,327.4 1584.0,327.1 1590.0,326.9 1596.0,326.8 1602.0,326.6 1608.0,326.5 1614.0,326.3 1620.0,326.2 1626.0,326.1 1632.0,326.1 1638.0,326.0 1644.0,325.9 1650.0,325.9 1656.0,325.8 1662.0,325.8 1668.0,325.7 1674.0,325.7 1680.0,325.6 1686.0,325.6 1692.0,325.6 1698.0,325.5 1704.0,325.5 1710.0,325.5 1716.0,325.5 1722.0,325.4 1728.0,325.4 1734.0,325.4 1740.0,325.4 1746.0,325.4 1752.0,325.4 1758.0,325.3 1764.0,325.3 1770.0,325.3 1776.0,325.3 1782.0,325.3 1788.0,325.3 1794.0,325.3 1800.0,325.3 1806.0,325.2 1812.0,325.2 1818.0,325.2 1824.0,325.2 1830.0,325.2 1836.0,325.2 1842.0,325.2 1848.0,325.2 1854.0,325.2 1860.0,325.2 1866.0,325.2 1872.0,325.2 1878.0,325.2 1884.0,325.2 1890.0,325.2 1896.0,325.2 1902.0,325.2 1908.0,325.1 1914.0,325.1 1920.0,325.1 1926.0,325.1 1932.0,325.1 1938.0,325.1 1944.0,325.1 1949.5,325.1"/>
<polyline fill="none" stroke="#1e1cb0" stroke-width="1.45" points="963.0,324.0 969.0,324.0 975.0,324.0 981.0,324.0 987.0,324.0 993.0,324.0 999.0,324.0 1005.0,324.0 1011.0,324.0 1017.0,324.0 1023.0,324.0 1029.0,324.0 1035.0,324.0 1041.0,324.0 1047.0,324.0 1053.0,324.0 1059.0,324.0 1065.0,324.0 1071.0,324.0 1077.0,324.0 1083.0,324.0 1089.0,324.0 1095.0,324.0 1101.0,324.0 1107.0,324.0 1113.0,324.0 1119.0,324.1 1125.0,324.1 1131.0,324.1 1137.0,324.1 1143.0,324.1 1149.0,324.1 1155.0,324.1 1161.0,324.1 1167.0,324.1 1173.0,324.1 1179.0,324.1 1185.0,324.1 1191.0,324.1 1197.0,324.1 1203.0,324.1 1209.0,324.1 1215.0,324.1 1221.0,324.1 1227.0,324.1"/>
<polyline fill="none" stroke="#1e1cb0" stroke-width="1.45" points="1323.0,324.3 1329.0,324.3 1335.0,324.4 1341.0,324.4 1347.0,324.4 1353.0,324.5 1359.0,324.5 1365.0,324.6 1371.0,324.7 1377.0,324.8 1380.0,324.8 1380.5,324.8 1381.0,324.8 1381.5,324.9 1382.0,324.9 1382.5,324.9 1383.0,324.9 1383.5,324.9 1384.0,324.9 1384.5,324.9 1385.0,324.9 1385.5,324.9 1386.0,325.0 1386.5,325.0 1387.0,325.0 1387.5,325.0 1388.0,325.0 1388.5,325.0 1389.0,325.0 1389.5,325.0 1390.0,325.1 1390.5,325.1 1391.0,325.1 1391.5,325.1 1392.0,325.1 1392.5,325.1 1393.0,325.2 1393.5,325.2 1394.0,325.2 1394.5,325.2 1395.0,325.2 1395.5,325.2 1396.0,325.3 1396.5,325.3 1397.0,325.3 1397.5,325.3 1398.0,325.3 1398.5,325.3 1399.0,325.4 1399.5,325.4 1400.0,325.4 1400.5,325.4 1401.0,325.5 1401.5,325.5 1402.0,325.5 1402.5,325.5 1403.0,325.6 1403.5,325.6 1404.0,325.6 1404.5,325.6 1405.0,325.7 1405.5,325.7 1406.0,325.7 1406.5,325.7 1407.0,325.8 1407.5,325.8 1408.0,325.8 1408.5,325.9 1409.0,325.9 1409.5,325.9 1410.0,326.0 1410.5,326.0 1411.0,326.0 1411.5,326.1 1412.0,326.1 1412.5,326.2 1413.0,326.2 1413.5,326.2 1414.0,326.3 1414.5,326.3 1415.0,326.4 1415.5,326.4 1416.0,326.5 1416.5,326.5 1417.0,326.6 1417.5,326.6 1418.0,326.7 1418.5,326.7 1419.0,326.8 1419.5,326.9 1420.0,326.9 1420.5,327.0 1421.0,327.0 1421.5,327.1 1422.0,327.2 1422.5,327.3 1423.0,327.3 1423.5,327.4 1424.0,327.5 1424.5,327.6 1425.0,327.7 1425.5,327.8 1426.0,327.9 1426.5,328.0 1427.0,328.1 1427.5,328.2 1428.0,328.3 1428.5,328.4 1429.0,328.5 1429.5,328.6 1430.0,328.8 1430.5,328.9 1431.0,329.0 1431.5,329.2 1432.0,329.3 1432.5,329.5 1433.0,329.7 1433.5,329.8 1434.0,330.0 1434.5,330.2 1435.0,330.4 1435.5,330.6 1436.0,330.9 1436.5,331.1 1437.0,331.3 1437.5,331.6 1438.0,331.9 1438.5,332.1 1439.0,332.4 1439.5,332.8 1440.0,333.1 1440.5,333.4 1441.0,333.8 1441.5,334.2 1442.0,334.6 1442.5,335.1 1443.0,335.5 1443.5,336.1 1444.0,336.6 1444.5,337.2 1445.0,337.8 1445.5,338.4 1446.0,339.1 1446.5,339.9 1447.0,340.7 1447.5,341.5 1448.0,342.5 1448.5,343.5 1449.0,344.6 1449.5,345.7 1450.0,347.0 1450.5,348.4 1451.0,349.9 1451.5,351.5 1452.0,353.3 1452.5,355.2 1453.0,357.3 1453.5,359.7 1454.0,362.2 1454.5,365.0 1455.0,368.1 1455.5,371.6 1456.0,375.3 1456.5,379.5 1457.0,384.1 1457.5,389.1 1458.0,394.7 1458.5,400.8 1459.0,407.5 1459.5,414.9 1460.0,422.7 1460.5,431.2 1461.0,440.1 1461.5,449.2 1462.0,458.4 1462.5,467.4 1463.0,475.7 1463.5,482.9 1464.0,488.5 1464.5,492.2 1465.0,493.6 1465.5,492.7 1466.0,489.4 1466.5,484.2 1467.0,477.2 1467.5,469.1 1468.0,460.3 1468.5,451.1 1469.0,441.9 1469.5,432.9 1470.0,424.4 1470.5,416.4 1471.0,409.0 1471.5,402.1 1472.0,395.9 1472.5,390.2 1473.0,385.0 1473.5,380.4 1474.0,376.1 1474.5,372.3 1475.0,368.8 1475.5,365.6 1476.0,362.8 1476.5,360.2 1477.0,357.8 1477.5,355.6 1478.0,353.7 1478.5,351.8 1479.0,350.2 1479.5,348.7 1480.0,347.3 1480.5,346.0 1481.0,344.8 1481.5,343.7 1482.0,342.7 1482.5,341.7 1483.0,340.8 1483.5,340.0 1484.0,339.3 1484.5,338.6 1485.0,337.9 1485.5,337.3 1486.0,336.7 1486.5,336.2 1487.0,335.6 1487.5,335.2 1488.0,334.7 1488.5,334.3 1489.0,333.9 1489.5,333.5 1490.0,333.2 1490.5,332.8 1491.0,332.5 1491.5,332.2 1492.0,331.9 1492.5,331.6 1493.0,331.4 1493.5,331.1 1494.0,330.9 1494.5,330.7 1495.0,330.5 1495.5,330.3 1496.0,330.1 1496.5,329.9 1497.0,329.7 1497.5,329.5 1498.0,329.4 1498.5,329.2 1499.0,329.1 1499.5,328.9 1500.0,328.8 1500.5,328.7 1501.0,328.5 1501.5,328.4 1502.0,328.3 1502.5,328.2 1503.0,328.1 1503.5,328.0 1504.0,327.9 1504.5,327.8 1505.0,327.7 1505.5,327.6 1506.0,327.5 1506.5,327.4 1507.0,327.4 1507.5,327.3 1508.0,327.2 1508.5,327.1 1509.0,327.1 1509.5,327.0 1510.0,326.9 1510.5,326.9 1511.0,326.8 1511.5,326.7 1512.0,326.7 1512.5,326.6 1513.0,326.6 1513.5,326.5 1514.0,326.5 1514.5,326.4 1515.0,326.4 1515.5,326.3 1516.0,326.3 1516.5,326.2 1517.0,326.2 1517.5,326.2 1518.0,326.1 1518.5,326.1 1519.0,326.0 1519.5,326.0 1520.0,326.0 1520.5,325.9 1521.0,325.9 1521.5,325.9 1522.0,325.8 1522.5,325.8 1523.0,325.8 1523.5,325.7 1524.0,325.7 1524.5,325.7 1525.0,325.7 1525.5,325.6 1526.0,325.6 1526.5,325.6 1527.0,325.6 1527.5,325.5 1528.0,325.5 1528.5,325.5 1529.0,325.5 1529.5,325.4 1530.0,325.4 1530.5,325.4 1531.0,325.4 1531.5,325.4 1532.0,325.3 1532.5,325.3 1533.0,325.3 1533.5,325.3 1534.0,325.3 1534.5,325.2 1535.0,325.2 1535.5,325.2 1536.0,325.2 1536.5,325.2 1537.0,325.2 1537.5,325.1 1538.0,325.1 1538.5,325.1 1539.0,325.1 1539.5,325.1 1540.0,325.1 1540.5,325.1 1541.0,325.0 1541.5,325.0 1542.0,325.0 1542.5,325.0 1543.0,325.0 1543.5,325.0 1544.0,325.0 1544.5,324.9 1545.0,324.9 1545.5,324.9 1546.0,324.9 1546.5,324.9 1547.0,324.9 1547.5,324.9 1548.0,324.9 1548.5,324.9 1549.0,324.9 1549.5,324.8 1550.0,324.8 1550.5,324.8 1551.0,324.8 1551.5,324.8 1552.0,324.8 1552.5,324.8 1553.0,324.8 1553.5,324.8 1554.0,324.8 1554.5,324.7 1555.0,324.7 1555.5,324.7 1556.0,324.7 1556.5,324.7 1557.0,324.7 1557.5,324.7 1558.0,324.7 1558.5,324.7 1559.0,324.7 1559.5,324.7 1560.0,324.7 1566.0,324.6 1572.0,324.5 1578.0,324.5 1584.0,324.4 1590.0,324.4 1596.0,324.4 1602.0,324.3 1608.0,324.3 1614.0,324.3"/>
<polyline fill="none" stroke="#1e1cb0" stroke-width="1.45" points="1698.0,324.1 1704.0,324.1 1710.0,324.1 1716.0,324.1 1722.0,324.1 1728.0,324.1 1734.0,324.1 1740.0,324.1 1746.0,324.1 1752.0,324.1 1758.0,324.1 1764.0,324.1 1770.0,324.1 1776.0,324.1 1782.0,324.1 1788.0,324.1 1794.0,324.1 1800.0,324.1 1806.0,324.1 1812.0,324.1 1818.0,324.0 1824.0,324.0 1830.0,324.0 1836.0,324.0 1842.0,324.0 1848.0,324.0 1854.0,324.0 1860.0,324.0 1866.0,324.0 1872.0,324.0 1878.0,324.0 1884.0,324.0 1890.0,324.0 1896.0,324.0 1902.0,324.0 1908.0,324.0 1914.0,324.0 1920.0,324.0 1926.0,324.0 1932.0,324.0 1938.0,324.0 1944.0,324.0 1949.5,324.0"/>
<path d="M961.6 331.7l1.9 -1.9l1.9 1.9l-1.9 1.9zM963.5 314.4l1.9 -1.9l1.9 1.9l-1.9 1.9zM965.5 309.7l1.9 -1.9l1.9 1.9l-1.9 1.9zM967.4 328.8l1.9 -1.9l1.9 1.9l-1.9 1.9zM969.3 310.2l1.9 -1.9l1.9 1.9l-1.9 1.9zM971.3 341.8l1.9 -1.9l1.9 1.9l-1.9 1.9zM973.2 353.8l1.9 -1.9l1.9 1.9l-1.9 1.9zM975.1 293.5l1.9 -1.9l1.9 1.9l-1.9 1.9zM977.1 319.0l1.9 -1.9l1.9 1.9l-1.9 1.9zM979.0 345.6l1.9 -1.9l1.9 1.9l-1.9 1.9zM980.9 325.4l1.9 -1.9l1.9 1.9l-1.9 1.9zM982.8 321.9l1.9 -1.9l1.9 1.9l-1.9 1.9zM984.8 302.9l1.9 -1.9l1.9 1.9l-1.9 1.9zM986.7 338.9l1.9 -1.9l1.9 1.9l-1.9 1.9zM988.6 341.0l1.9 -1.9l1.9 1.9l-1.9 1.9zM990.6 284.6l1.9 -1.9l1.9 1.9l-1.9 1.9zM992.5 335.8l1.9 -1.9l1.9 1.9l-1.9 1.9zM994.4 290.2l1.9 -1.9l1.9 1.9l-1.9 1.9zM996.4 326.0l1.9 -1.9l1.9 1.9l-1.9 1.9zM998.3 304.4l1.9 -1.9l1.9 1.9l-1.9 1.9zM1000.2 348.4l1.9 -1.9l1.9 1.9l-1.9 1.9zM1002.2 300.7l1.9 -1.9l1.9 1.9l-1.9 1.9zM1004.1 350.8l1.9 -1.9l1.9 1.9l-1.9 1.9zM1006.0 324.4l1.9 -1.9l1.9 1.9l-1.9 1.9zM1008.0 318.6l1.9 -1.9l1.9 1.9l-1.9 1.9zM1009.9 272.4l1.9 -1.9l1.9 1.9l-1.9 1.9zM1011.8 352.2l1.9 -1.9l1.9 1.9l-1.9 1.9zM1013.8 332.4l1.9 -1.9l1.9 1.9l-1.9 1.9zM1015.7 420.1l1.9 -1.9l1.9 1.9l-1.9 1.9zM1017.6 289.5l1.9 -1.9l1.9 1.9l-1.9 1.9zM1019.5 338.3l1.9 -1.9l1.9 1.9l-1.9 1.9zM1021.5 310.9l1.9 -1.9l1.9 1.9l-1.9 1.9zM1023.4 322.4l1.9 -1.9l1.9 1.9l-1.9 1.9zM1025.3 361.1l1.9 -1.9l1.9 1.9l-1.9 1.9zM1027.3 290.9l1.9 -1.9l1.9 1.9l-1.9 1.9zM1029.2 336.9l1.9 -1.9l1.9 1.9l-1.9 1.9zM1031.1 345.2l1.9 -1.9l1.9 1.9l-1.9 1.9zM1033.1 298.5l1.9 -1.9l1.9 1.9l-1.9 1.9zM1035.0 331.7l1.9 -1.9l1.9 1.9l-1.9 1.9zM1036.9 329.3l1.9 -1.9l1.9 1.9l-1.9 1.9zM1038.9 324.9l1.9 -1.9l1.9 1.9l-1.9 1.9zM1040.8 297.1l1.9 -1.9l1.9 1.9l-1.9 1.9zM1042.7 345.8l1.9 -1.9l1.9 1.9l-1.9 1.9zM1044.7 354.0l1.9 -1.9l1.9 1.9l-1.9 1.9zM1046.6 269.9l1.9 -1.9l1.9 1.9l-1.9 1.9zM1048.5 368.1l1.9 -1.9l1.9 1.9l-1.9 1.9zM1050.4 314.5l1.9 -1.9l1.9 1.9l-1.9 1.9zM1052.4 309.1l1.9 -1.9l1.9 1.9l-1.9 1.9zM1054.3 379.3l1.9 -1.9l1.9 1.9l-1.9 1.9zM1056.2 311.1l1.9 -1.9l1.9 1.9l-1.9 1.9zM1058.2 286.8l1.9 -1.9l1.9 1.9l-1.9 1.9zM1060.1 345.4l1.9 -1.9l1.9 1.9l-1.9 1.9zM1062.0 336.8l1.9 -1.9l1.9 1.9l-1.9 1.9zM1064.0 312.1l1.9 -1.9l1.9 1.9l-1.9 1.9zM1065.9 343.2l1.9 -1.9l1.9 1.9l-1.9 1.9zM1067.8 313.1l1.9 -1.9l1.9 1.9l-1.9 1.9zM1069.8 341.0l1.9 -1.9l1.9 1.9l-1.9 1.9zM1071.7 346.7l1.9 -1.9l1.9 1.9l-1.9 1.9zM1073.6 288.0l1.9 -1.9l1.9 1.9l-1.9 1.9zM1075.6 340.1l1.9 -1.9l1.9 1.9l-1.9 1.9zM1077.5 311.8l1.9 -1.9l1.9 1.9l-1.9 1.9zM1079.4 335.2l1.9 -1.9l1.9 1.9l-1.9 1.9zM1081.4 297.0l1.9 -1.9l1.9 1.9l-1.9 1.9zM1083.3 330.8l1.9 -1.9l1.9 1.9l-1.9 1.9zM1085.2 329.8l1.9 -1.9l1.9 1.9l-1.9 1.9zM1087.1 348.1l1.9 -1.9l1.9 1.9l-1.9 1.9zM1089.1 336.6l1.9 -1.9l1.9 1.9l-1.9 1.9zM1091.0 278.2l1.9 -1.9l1.9 1.9l-1.9 1.9zM1092.9 328.1l1.9 -1.9l1.9 1.9l-1.9 1.9zM1094.9 351.8l1.9 -1.9l1.9 1.9l-1.9 1.9zM1096.8 271.1l1.9 -1.9l1.9 1.9l-1.9 1.9zM1098.7 345.8l1.9 -1.9l1.9 1.9l-1.9 1.9zM1100.7 330.2l1.9 -1.9l1.9 1.9l-1.9 1.9zM1102.6 354.5l1.9 -1.9l1.9 1.9l-1.9 1.9zM1104.5 321.0l1.9 -1.9l1.9 1.9l-1.9 1.9zM1106.5 307.3l1.9 -1.9l1.9 1.9l-1.9 1.9zM1108.4 322.1l1.9 -1.9l1.9 1.9l-1.9 1.9zM1110.3 325.4l1.9 -1.9l1.9 1.9l-1.9 1.9zM1112.3 362.8l1.9 -1.9l1.9 1.9l-1.9 1.9zM1114.2 292.2l1.9 -1.9l1.9 1.9l-1.9 1.9zM1116.1 325.1l1.9 -1.9l1.9 1.9l-1.9 1.9zM1118.1 337.7l1.9 -1.9l1.9 1.9l-1.9 1.9zM1120.0 317.1l1.9 -1.9l1.9 1.9l-1.9 1.9zM1121.9 322.7l1.9 -1.9l1.9 1.9l-1.9 1.9zM1123.8 303.7l1.9 -1.9l1.9 1.9l-1.9 1.9zM1125.8 342.2l1.9 -1.9l1.9 1.9l-1.9 1.9zM1127.7 315.6l1.9 -1.9l1.9 1.9l-1.9 1.9zM1129.6 357.9l1.9 -1.9l1.9 1.9l-1.9 1.9zM1131.6 321.6l1.9 -1.9l1.9 1.9l-1.9 1.9zM1133.5 314.6l1.9 -1.9l1.9 1.9l-1.9 1.9zM1135.4 340.4l1.9 -1.9l1.9 1.9l-1.9 1.9zM1137.4 307.4l1.9 -1.9l1.9 1.9l-1.9 1.9zM1139.3 353.8l1.9 -1.9l1.9 1.9l-1.9 1.9zM1141.2 308.9l1.9 -1.9l1.9 1.9l-1.9 1.9zM1143.2 338.3l1.9 -1.9l1.9 1.9l-1.9 1.9zM1145.1 287.7l1.9 -1.9l1.9 1.9l-1.9 1.9zM1147.0 352.9l1.9 -1.9l1.9 1.9l-1.9 1.9zM1149.0 282.6l1.9 -1.9l1.9 1.9l-1.9 1.9zM1150.9 306.4l1.9 -1.9l1.9 1.9l-1.9 1.9zM1152.8 350.1l1.9 -1.9l1.9 1.9l-1.9 1.9zM1154.8 310.1l1.9 -1.9l1.9 1.9l-1.9 1.9zM1156.7 342.9l1.9 -1.9l1.9 1.9l-1.9 1.9zM1158.6 372.4l1.9 -1.9l1.9 1.9l-1.9 1.9zM1160.5 272.2l1.9 -1.9l1.9 1.9l-1.9 1.9zM1162.5 324.4l1.9 -1.9l1.9 1.9l-1.9 1.9zM1164.4 339.5l1.9 -1.9l1.9 1.9l-1.9 1.9zM1166.3 333.0l1.9 -1.9l1.9 1.9l-1.9 1.9zM1168.3 313.8l1.9 -1.9l1.9 1.9l-1.9 1.9zM1170.2 323.5l1.9 -1.9l1.9 1.9l-1.9 1.9zM1172.1 344.1l1.9 -1.9l1.9 1.9l-1.9 1.9zM1174.1 326.0l1.9 -1.9l1.9 1.9l-1.9 1.9zM1176.0 294.4l1.9 -1.9l1.9 1.9l-1.9 1.9zM1177.9 339.6l1.9 -1.9l1.9 1.9l-1.9 1.9zM1179.9 327.4l1.9 -1.9l1.9 1.9l-1.9 1.9zM1181.8 301.5l1.9 -1.9l1.9 1.9l-1.9 1.9zM1183.7 347.4l1.9 -1.9l1.9 1.9l-1.9 1.9zM1185.7 302.4l1.9 -1.9l1.9 1.9l-1.9 1.9zM1187.6 360.2l1.9 -1.9l1.9 1.9l-1.9 1.9zM1189.5 314.6l1.9 -1.9l1.9 1.9l-1.9 1.9zM1191.4 324.4l1.9 -1.9l1.9 1.9l-1.9 1.9zM1193.4 310.9l1.9 -1.9l1.9 1.9l-1.9 1.9zM1195.3 331.9l1.9 -1.9l1.9 1.9l-1.9 1.9zM1197.2 283.0l1.9 -1.9l1.9 1.9l-1.9 1.9zM1199.2 331.3l1.9 -1.9l1.9 1.9l-1.9 1.9zM1201.1 351.0l1.9 -1.9l1.9 1.9l-1.9 1.9zM1203.0 272.7l1.9 -1.9l1.9 1.9l-1.9 1.9zM1205.0 377.1l1.9 -1.9l1.9 1.9l-1.9 1.9zM1206.9 273.7l1.9 -1.9l1.9 1.9l-1.9 1.9zM1208.8 369.2l1.9 -1.9l1.9 1.9l-1.9 1.9zM1210.8 295.0l1.9 -1.9l1.9 1.9l-1.9 1.9zM1212.7 355.8l1.9 -1.9l1.9 1.9l-1.9 1.9zM1214.6 316.3l1.9 -1.9l1.9 1.9l-1.9 1.9zM1216.6 289.4l1.9 -1.9l1.9 1.9l-1.9 1.9zM1218.5 376.9l1.9 -1.9l1.9 1.9l-1.9 1.9zM1220.4 338.0l1.9 -1.9l1.9 1.9l-1.9 1.9zM1222.4 301.7l1.9 -1.9l1.9 1.9l-1.9 1.9zM1224.3 320.4l1.9 -1.9l1.9 1.9l-1.9 1.9zM1226.2 326.2l1.9 -1.9l1.9 1.9l-1.9 1.9zM1228.1 306.4l1.9 -1.9l1.9 1.9l-1.9 1.9zM1230.1 364.9l1.9 -1.9l1.9 1.9l-1.9 1.9zM1232.0 296.5l1.9 -1.9l1.9 1.9l-1.9 1.9zM1233.9 332.8l1.9 -1.9l1.9 1.9l-1.9 1.9zM1235.9 308.8l1.9 -1.9l1.9 1.9l-1.9 1.9zM1237.8 324.0l1.9 -1.9l1.9 1.9l-1.9 1.9zM1239.7 307.0l1.9 -1.9l1.9 1.9l-1.9 1.9zM1241.7 373.2l1.9 -1.9l1.9 1.9l-1.9 1.9zM1243.6 302.7l1.9 -1.9l1.9 1.9l-1.9 1.9zM1245.5 349.3l1.9 -1.9l1.9 1.9l-1.9 1.9zM1247.5 310.9l1.9 -1.9l1.9 1.9l-1.9 1.9zM1249.4 310.0l1.9 -1.9l1.9 1.9l-1.9 1.9zM1251.3 329.1l1.9 -1.9l1.9 1.9l-1.9 1.9zM1253.3 318.3l1.9 -1.9l1.9 1.9l-1.9 1.9zM1255.2 334.5l1.9 -1.9l1.9 1.9l-1.9 1.9zM1257.1 317.2l1.9 -1.9l1.9 1.9l-1.9 1.9zM1259.1 324.8l1.9 -1.9l1.9 1.9l-1.9 1.9zM1261.0 299.8l1.9 -1.9l1.9 1.9l-1.9 1.9zM1262.9 329.2l1.9 -1.9l1.9 1.9l-1.9 1.9zM1264.8 374.8l1.9 -1.9l1.9 1.9l-1.9 1.9zM1266.8 285.3l1.9 -1.9l1.9 1.9l-1.9 1.9zM1268.7 312.8l1.9 -1.9l1.9 1.9l-1.9 1.9zM1270.6 349.5l1.9 -1.9l1.9 1.9l-1.9 1.9zM1272.6 351.7l1.9 -1.9l1.9 1.9l-1.9 1.9zM1274.5 271.8l1.9 -1.9l1.9 1.9l-1.9 1.9zM1276.4 343.7l1.9 -1.9l1.9 1.9l-1.9 1.9zM1278.4 315.1l1.9 -1.9l1.9 1.9l-1.9 1.9zM1280.3 296.7l1.9 -1.9l1.9 1.9l-1.9 1.9zM1282.2 369.4l1.9 -1.9l1.9 1.9l-1.9 1.9zM1284.2 314.0l1.9 -1.9l1.9 1.9l-1.9 1.9zM1286.1 327.8l1.9 -1.9l1.9 1.9l-1.9 1.9zM1288.0 308.2l1.9 -1.9l1.9 1.9l-1.9 1.9zM1290.0 347.6l1.9 -1.9l1.9 1.9l-1.9 1.9zM1291.9 307.0l1.9 -1.9l1.9 1.9l-1.9 1.9zM1293.8 331.2l1.9 -1.9l1.9 1.9l-1.9 1.9zM1295.8 303.7l1.9 -1.9l1.9 1.9l-1.9 1.9zM1297.7 316.3l1.9 -1.9l1.9 1.9l-1.9 1.9zM1299.6 374.4l1.9 -1.9l1.9 1.9l-1.9 1.9zM1301.5 294.2l1.9 -1.9l1.9 1.9l-1.9 1.9zM1303.5 340.4l1.9 -1.9l1.9 1.9l-1.9 1.9zM1305.4 320.8l1.9 -1.9l1.9 1.9l-1.9 1.9zM1307.3 316.9l1.9 -1.9l1.9 1.9l-1.9 1.9zM1309.3 321.8l1.9 -1.9l1.9 1.9l-1.9 1.9zM1311.2 348.0l1.9 -1.9l1.9 1.9l-1.9 1.9zM1313.1 309.8l1.9 -1.9l1.9 1.9l-1.9 1.9zM1315.1 327.6l1.9 -1.9l1.9 1.9l-1.9 1.9zM1317.0 329.1l1.9 -1.9l1.9 1.9l-1.9 1.9zM1318.9 352.0l1.9 -1.9l1.9 1.9l-1.9 1.9zM1320.9 323.2l1.9 -1.9l1.9 1.9l-1.9 1.9zM1322.8 324.3l1.9 -1.9l1.9 1.9l-1.9 1.9zM1324.7 308.1l1.9 -1.9l1.9 1.9l-1.9 1.9zM1326.7 304.6l1.9 -1.9l1.9 1.9l-1.9 1.9zM1328.6 368.9l1.9 -1.9l1.9 1.9l-1.9 1.9zM1330.5 333.2l1.9 -1.9l1.9 1.9l-1.9 1.9zM1332.4 308.5l1.9 -1.9l1.9 1.9l-1.9 1.9zM1334.4 340.8l1.9 -1.9l1.9 1.9l-1.9 1.9zM1336.3 335.6l1.9 -1.9l1.9 1.9l-1.9 1.9zM1338.2 333.1l1.9 -1.9l1.9 1.9l-1.9 1.9zM1340.2 334.3l1.9 -1.9l1.9 1.9l-1.9 1.9zM1342.1 302.5l1.9 -1.9l1.9 1.9l-1.9 1.9zM1344.0 367.5l1.9 -1.9l1.9 1.9l-1.9 1.9zM1346.0 276.0l1.9 -1.9l1.9 1.9l-1.9 1.9zM1347.9 365.4l1.9 -1.9l1.9 1.9l-1.9 1.9zM1349.8 324.7l1.9 -1.9l1.9 1.9l-1.9 1.9zM1351.8 338.9l1.9 -1.9l1.9 1.9l-1.9 1.9zM1353.7 355.3l1.9 -1.9l1.9 1.9l-1.9 1.9zM1355.6 331.1l1.9 -1.9l1.9 1.9l-1.9 1.9zM1357.6 279.1l1.9 -1.9l1.9 1.9l-1.9 1.9zM1359.5 307.9l1.9 -1.9l1.9 1.9l-1.9 1.9zM1361.4 371.9l1.9 -1.9l1.9 1.9l-1.9 1.9zM1363.4 292.7l1.9 -1.9l1.9 1.9l-1.9 1.9zM1365.3 343.3l1.9 -1.9l1.9 1.9l-1.9 1.9zM1367.2 346.7l1.9 -1.9l1.9 1.9l-1.9 1.9zM1369.1 278.7l1.9 -1.9l1.9 1.9l-1.9 1.9zM1371.1 307.0l1.9 -1.9l1.9 1.9l-1.9 1.9zM1373.0 366.8l1.9 -1.9l1.9 1.9l-1.9 1.9zM1374.9 325.5l1.9 -1.9l1.9 1.9l-1.9 1.9zM1376.9 322.5l1.9 -1.9l1.9 1.9l-1.9 1.9zM1378.8 333.5l1.9 -1.9l1.9 1.9l-1.9 1.9zM1380.7 309.4l1.9 -1.9l1.9 1.9l-1.9 1.9zM1382.7 309.1l1.9 -1.9l1.9 1.9l-1.9 1.9zM1384.6 349.2l1.9 -1.9l1.9 1.9l-1.9 1.9zM1386.5 310.7l1.9 -1.9l1.9 1.9l-1.9 1.9zM1388.5 308.6l1.9 -1.9l1.9 1.9l-1.9 1.9zM1390.4 366.8l1.9 -1.9l1.9 1.9l-1.9 1.9zM1392.3 321.2l1.9 -1.9l1.9 1.9l-1.9 1.9zM1394.3 340.7l1.9 -1.9l1.9 1.9l-1.9 1.9zM1396.2 302.9l1.9 -1.9l1.9 1.9l-1.9 1.9zM1398.1 332.2l1.9 -1.9l1.9 1.9l-1.9 1.9zM1400.1 319.9l1.9 -1.9l1.9 1.9l-1.9 1.9zM1402.0 328.1l1.9 -1.9l1.9 1.9l-1.9 1.9zM1403.9 350.8l1.9 -1.9l1.9 1.9l-1.9 1.9zM1405.8 312.9l1.9 -1.9l1.9 1.9l-1.9 1.9zM1407.8 353.8l1.9 -1.9l1.9 1.9l-1.9 1.9zM1409.7 336.5l1.9 -1.9l1.9 1.9l-1.9 1.9zM1411.6 374.8l1.9 -1.9l1.9 1.9l-1.9 1.9zM1413.6 273.9l1.9 -1.9l1.9 1.9l-1.9 1.9zM1415.5 378.2l1.9 -1.9l1.9 1.9l-1.9 1.9zM1417.4 322.3l1.9 -1.9l1.9 1.9l-1.9 1.9zM1419.4 340.2l1.9 -1.9l1.9 1.9l-1.9 1.9zM1421.3 308.7l1.9 -1.9l1.9 1.9l-1.9 1.9zM1423.2 354.3l1.9 -1.9l1.9 1.9l-1.9 1.9zM1425.2 367.4l1.9 -1.9l1.9 1.9l-1.9 1.9zM1427.1 332.7l1.9 -1.9l1.9 1.9l-1.9 1.9zM1429.0 351.6l1.9 -1.9l1.9 1.9l-1.9 1.9zM1431.0 343.8l1.9 -1.9l1.9 1.9l-1.9 1.9zM1432.9 385.1l1.9 -1.9l1.9 1.9l-1.9 1.9zM1434.8 341.1l1.9 -1.9l1.9 1.9l-1.9 1.9zM1436.8 316.5l1.9 -1.9l1.9 1.9l-1.9 1.9zM1438.7 390.5l1.9 -1.9l1.9 1.9l-1.9 1.9zM1440.6 347.6l1.9 -1.9l1.9 1.9l-1.9 1.9zM1442.5 350.4l1.9 -1.9l1.9 1.9l-1.9 1.9zM1444.5 445.7l1.9 -1.9l1.9 1.9l-1.9 1.9zM1446.4 465.6l1.9 -1.9l1.9 1.9l-1.9 1.9zM1448.3 437.1l1.9 -1.9l1.9 1.9l-1.9 1.9zM1450.3 470.0l1.9 -1.9l1.9 1.9l-1.9 1.9zM1452.2 548.0l1.9 -1.9l1.9 1.9l-1.9 1.9zM1454.1 655.3l1.9 -1.9l1.9 1.9l-1.9 1.9zM1456.1 661.7l1.9 -1.9l1.9 1.9l-1.9 1.9zM1458.0 706.5l1.9 -1.9l1.9 1.9l-1.9 1.9zM1459.9 739.6l1.9 -1.9l1.9 1.9l-1.9 1.9zM1461.9 703.4l1.9 -1.9l1.9 1.9l-1.9 1.9zM1463.8 693.5l1.9 -1.9l1.9 1.9l-1.9 1.9zM1465.7 635.7l1.9 -1.9l1.9 1.9l-1.9 1.9zM1467.7 597.6l1.9 -1.9l1.9 1.9l-1.9 1.9zM1469.6 561.7l1.9 -1.9l1.9 1.9l-1.9 1.9zM1471.5 626.1l1.9 -1.9l1.9 1.9l-1.9 1.9zM1473.4 601.8l1.9 -1.9l1.9 1.9l-1.9 1.9zM1475.4 678.9l1.9 -1.9l1.9 1.9l-1.9 1.9zM1477.3 584.5l1.9 -1.9l1.9 1.9l-1.9 1.9zM1479.2 598.6l1.9 -1.9l1.9 1.9l-1.9 1.9zM1481.2 528.0l1.9 -1.9l1.9 1.9l-1.9 1.9zM1483.1 449.5l1.9 -1.9l1.9 1.9l-1.9 1.9zM1485.0 501.9l1.9 -1.9l1.9 1.9l-1.9 1.9zM1487.0 423.4l1.9 -1.9l1.9 1.9l-1.9 1.9zM1488.9 366.4l1.9 -1.9l1.9 1.9l-1.9 1.9zM1490.8 410.0l1.9 -1.9l1.9 1.9l-1.9 1.9zM1492.8 372.0l1.9 -1.9l1.9 1.9l-1.9 1.9zM1494.7 304.0l1.9 -1.9l1.9 1.9l-1.9 1.9zM1496.6 407.6l1.9 -1.9l1.9 1.9l-1.9 1.9zM1498.6 351.5l1.9 -1.9l1.9 1.9l-1.9 1.9zM1500.5 355.6l1.9 -1.9l1.9 1.9l-1.9 1.9zM1502.4 324.4l1.9 -1.9l1.9 1.9l-1.9 1.9zM1504.4 357.5l1.9 -1.9l1.9 1.9l-1.9 1.9zM1506.3 344.8l1.9 -1.9l1.9 1.9l-1.9 1.9zM1508.2 371.7l1.9 -1.9l1.9 1.9l-1.9 1.9zM1510.1 330.0l1.9 -1.9l1.9 1.9l-1.9 1.9zM1512.1 334.3l1.9 -1.9l1.9 1.9l-1.9 1.9zM1514.0 372.2l1.9 -1.9l1.9 1.9l-1.9 1.9zM1515.9 301.3l1.9 -1.9l1.9 1.9l-1.9 1.9zM1517.9 336.3l1.9 -1.9l1.9 1.9l-1.9 1.9zM1519.8 301.3l1.9 -1.9l1.9 1.9l-1.9 1.9zM1521.7 397.5l1.9 -1.9l1.9 1.9l-1.9 1.9zM1523.7 331.1l1.9 -1.9l1.9 1.9l-1.9 1.9zM1525.6 338.8l1.9 -1.9l1.9 1.9l-1.9 1.9zM1527.5 333.5l1.9 -1.9l1.9 1.9l-1.9 1.9zM1529.5 324.5l1.9 -1.9l1.9 1.9l-1.9 1.9zM1531.4 335.0l1.9 -1.9l1.9 1.9l-1.9 1.9zM1533.3 322.6l1.9 -1.9l1.9 1.9l-1.9 1.9zM1535.3 330.5l1.9 -1.9l1.9 1.9l-1.9 1.9zM1537.2 335.2l1.9 -1.9l1.9 1.9l-1.9 1.9zM1539.1 363.1l1.9 -1.9l1.9 1.9l-1.9 1.9zM1541.1 319.1l1.9 -1.9l1.9 1.9l-1.9 1.9zM1543.0 320.0l1.9 -1.9l1.9 1.9l-1.9 1.9zM1544.9 317.8l1.9 -1.9l1.9 1.9l-1.9 1.9zM1546.8 324.4l1.9 -1.9l1.9 1.9l-1.9 1.9zM1548.8 374.5l1.9 -1.9l1.9 1.9l-1.9 1.9zM1550.7 315.5l1.9 -1.9l1.9 1.9l-1.9 1.9zM1552.6 322.5l1.9 -1.9l1.9 1.9l-1.9 1.9zM1554.6 320.0l1.9 -1.9l1.9 1.9l-1.9 1.9zM1556.5 309.4l1.9 -1.9l1.9 1.9l-1.9 1.9zM1558.4 344.1l1.9 -1.9l1.9 1.9l-1.9 1.9zM1560.4 348.6l1.9 -1.9l1.9 1.9l-1.9 1.9zM1562.3 305.9l1.9 -1.9l1.9 1.9l-1.9 1.9zM1564.2 329.1l1.9 -1.9l1.9 1.9l-1.9 1.9zM1566.2 326.5l1.9 -1.9l1.9 1.9l-1.9 1.9zM1568.1 333.6l1.9 -1.9l1.9 1.9l-1.9 1.9zM1570.0 290.7l1.9 -1.9l1.9 1.9l-1.9 1.9zM1572.0 347.0l1.9 -1.9l1.9 1.9l-1.9 1.9zM1573.9 312.2l1.9 -1.9l1.9 1.9l-1.9 1.9zM1575.8 360.2l1.9 -1.9l1.9 1.9l-1.9 1.9zM1577.8 296.6l1.9 -1.9l1.9 1.9l-1.9 1.9zM1579.7 351.9l1.9 -1.9l1.9 1.9l-1.9 1.9zM1581.6 351.9l1.9 -1.9l1.9 1.9l-1.9 1.9zM1583.5 296.5l1.9 -1.9l1.9 1.9l-1.9 1.9zM1585.5 318.6l1.9 -1.9l1.9 1.9l-1.9 1.9zM1587.4 340.5l1.9 -1.9l1.9 1.9l-1.9 1.9zM1589.3 323.9l1.9 -1.9l1.9 1.9l-1.9 1.9zM1591.3 304.9l1.9 -1.9l1.9 1.9l-1.9 1.9zM1593.2 352.4l1.9 -1.9l1.9 1.9l-1.9 1.9zM1595.1 364.2l1.9 -1.9l1.9 1.9l-1.9 1.9zM1597.1 289.8l1.9 -1.9l1.9 1.9l-1.9 1.9zM1599.0 326.1l1.9 -1.9l1.9 1.9l-1.9 1.9zM1600.9 306.6l1.9 -1.9l1.9 1.9l-1.9 1.9zM1602.9 349.8l1.9 -1.9l1.9 1.9l-1.9 1.9zM1604.8 294.0l1.9 -1.9l1.9 1.9l-1.9 1.9zM1606.7 321.3l1.9 -1.9l1.9 1.9l-1.9 1.9zM1608.7 371.9l1.9 -1.9l1.9 1.9l-1.9 1.9zM1610.6 286.5l1.9 -1.9l1.9 1.9l-1.9 1.9zM1612.5 364.3l1.9 -1.9l1.9 1.9l-1.9 1.9zM1614.4 343.3l1.9 -1.9l1.9 1.9l-1.9 1.9zM1616.4 308.4l1.9 -1.9l1.9 1.9l-1.9 1.9zM1618.3 334.5l1.9 -1.9l1.9 1.9l-1.9 1.9zM1620.2 360.8l1.9 -1.9l1.9 1.9l-1.9 1.9zM1622.2 291.6l1.9 -1.9l1.9 1.9l-1.9 1.9zM1624.1 316.1l1.9 -1.9l1.9 1.9l-1.9 1.9zM1626.0 305.4l1.9 -1.9l1.9 1.9l-1.9 1.9zM1628.0 348.0l1.9 -1.9l1.9 1.9l-1.9 1.9zM1629.9 358.1l1.9 -1.9l1.9 1.9l-1.9 1.9zM1631.8 324.4l1.9 -1.9l1.9 1.9l-1.9 1.9zM1633.8 290.3l1.9 -1.9l1.9 1.9l-1.9 1.9zM1635.7 321.7l1.9 -1.9l1.9 1.9l-1.9 1.9zM1637.6 328.1l1.9 -1.9l1.9 1.9l-1.9 1.9zM1639.6 340.2l1.9 -1.9l1.9 1.9l-1.9 1.9zM1641.5 316.9l1.9 -1.9l1.9 1.9l-1.9 1.9zM1643.4 333.8l1.9 -1.9l1.9 1.9l-1.9 1.9zM1645.4 329.1l1.9 -1.9l1.9 1.9l-1.9 1.9zM1647.3 314.7l1.9 -1.9l1.9 1.9l-1.9 1.9zM1649.2 329.6l1.9 -1.9l1.9 1.9l-1.9 1.9zM1651.1 331.0l1.9 -1.9l1.9 1.9l-1.9 1.9zM1653.1 320.8l1.9 -1.9l1.9 1.9l-1.9 1.9zM1655.0 338.2l1.9 -1.9l1.9 1.9l-1.9 1.9zM1656.9 359.4l1.9 -1.9l1.9 1.9l-1.9 1.9zM1658.9 309.9l1.9 -1.9l1.9 1.9l-1.9 1.9zM1660.8 317.8l1.9 -1.9l1.9 1.9l-1.9 1.9zM1662.7 287.6l1.9 -1.9l1.9 1.9l-1.9 1.9zM1664.7 360.4l1.9 -1.9l1.9 1.9l-1.9 1.9zM1666.6 276.6l1.9 -1.9l1.9 1.9l-1.9 1.9zM1668.5 324.7l1.9 -1.9l1.9 1.9l-1.9 1.9zM1670.5 366.4l1.9 -1.9l1.9 1.9l-1.9 1.9zM1672.4 328.1l1.9 -1.9l1.9 1.9l-1.9 1.9zM1674.3 311.4l1.9 -1.9l1.9 1.9l-1.9 1.9zM1676.3 290.1l1.9 -1.9l1.9 1.9l-1.9 1.9zM1678.2 343.9l1.9 -1.9l1.9 1.9l-1.9 1.9zM1680.1 316.4l1.9 -1.9l1.9 1.9l-1.9 1.9zM1682.1 350.2l1.9 -1.9l1.9 1.9l-1.9 1.9zM1684.0 365.7l1.9 -1.9l1.9 1.9l-1.9 1.9zM1685.9 295.4l1.9 -1.9l1.9 1.9l-1.9 1.9zM1687.8 305.0l1.9 -1.9l1.9 1.9l-1.9 1.9zM1689.8 311.7l1.9 -1.9l1.9 1.9l-1.9 1.9zM1691.7 342.4l1.9 -1.9l1.9 1.9l-1.9 1.9zM1693.6 322.5l1.9 -1.9l1.9 1.9l-1.9 1.9zM1695.6 413.5l1.9 -1.9l1.9 1.9l-1.9 1.9zM1697.5 345.9l1.9 -1.9l1.9 1.9l-1.9 1.9zM1699.4 298.3l1.9 -1.9l1.9 1.9l-1.9 1.9zM1701.4 367.9l1.9 -1.9l1.9 1.9l-1.9 1.9zM1703.3 331.8l1.9 -1.9l1.9 1.9l-1.9 1.9zM1705.2 333.0l1.9 -1.9l1.9 1.9l-1.9 1.9zM1707.2 298.2l1.9 -1.9l1.9 1.9l-1.9 1.9zM1709.1 344.2l1.9 -1.9l1.9 1.9l-1.9 1.9zM1711.0 314.6l1.9 -1.9l1.9 1.9l-1.9 1.9zM1713.0 318.9l1.9 -1.9l1.9 1.9l-1.9 1.9zM1714.9 324.0l1.9 -1.9l1.9 1.9l-1.9 1.9zM1716.8 302.0l1.9 -1.9l1.9 1.9l-1.9 1.9zM1718.8 313.6l1.9 -1.9l1.9 1.9l-1.9 1.9zM1720.7 365.4l1.9 -1.9l1.9 1.9l-1.9 1.9zM1722.6 308.9l1.9 -1.9l1.9 1.9l-1.9 1.9zM1724.5 333.2l1.9 -1.9l1.9 1.9l-1.9 1.9zM1726.5 344.2l1.9 -1.9l1.9 1.9l-1.9 1.9zM1728.4 271.6l1.9 -1.9l1.9 1.9l-1.9 1.9zM1730.3 334.9l1.9 -1.9l1.9 1.9l-1.9 1.9zM1732.3 341.4l1.9 -1.9l1.9 1.9l-1.9 1.9zM1734.2 331.4l1.9 -1.9l1.9 1.9l-1.9 1.9zM1736.1 311.0l1.9 -1.9l1.9 1.9l-1.9 1.9zM1738.1 354.0l1.9 -1.9l1.9 1.9l-1.9 1.9zM1740.0 314.1l1.9 -1.9l1.9 1.9l-1.9 1.9zM1741.9 295.3l1.9 -1.9l1.9 1.9l-1.9 1.9zM1743.9 323.6l1.9 -1.9l1.9 1.9l-1.9 1.9zM1745.8 357.6l1.9 -1.9l1.9 1.9l-1.9 1.9zM1747.7 323.1l1.9 -1.9l1.9 1.9l-1.9 1.9zM1749.7 276.2l1.9 -1.9l1.9 1.9l-1.9 1.9zM1751.6 384.6l1.9 -1.9l1.9 1.9l-1.9 1.9zM1753.5 317.7l1.9 -1.9l1.9 1.9l-1.9 1.9zM1755.4 345.8l1.9 -1.9l1.9 1.9l-1.9 1.9zM1757.4 296.0l1.9 -1.9l1.9 1.9l-1.9 1.9zM1759.3 324.7l1.9 -1.9l1.9 1.9l-1.9 1.9zM1761.2 305.0l1.9 -1.9l1.9 1.9l-1.9 1.9zM1763.2 398.9l1.9 -1.9l1.9 1.9l-1.9 1.9zM1765.1 282.2l1.9 -1.9l1.9 1.9l-1.9 1.9zM1767.0 363.1l1.9 -1.9l1.9 1.9l-1.9 1.9zM1769.0 286.4l1.9 -1.9l1.9 1.9l-1.9 1.9zM1770.9 339.0l1.9 -1.9l1.9 1.9l-1.9 1.9zM1772.8 285.8l1.9 -1.9l1.9 1.9l-1.9 1.9zM1774.8 342.7l1.9 -1.9l1.9 1.9l-1.9 1.9zM1776.7 353.0l1.9 -1.9l1.9 1.9l-1.9 1.9zM1778.6 282.4l1.9 -1.9l1.9 1.9l-1.9 1.9zM1780.6 368.4l1.9 -1.9l1.9 1.9l-1.9 1.9zM1782.5 316.1l1.9 -1.9l1.9 1.9l-1.9 1.9zM1784.4 297.0l1.9 -1.9l1.9 1.9l-1.9 1.9zM1786.4 330.3l1.9 -1.9l1.9 1.9l-1.9 1.9zM1788.3 322.9l1.9 -1.9l1.9 1.9l-1.9 1.9zM1790.2 331.3l1.9 -1.9l1.9 1.9l-1.9 1.9zM1792.1 314.2l1.9 -1.9l1.9 1.9l-1.9 1.9zM1794.1 315.3l1.9 -1.9l1.9 1.9l-1.9 1.9zM1796.0 331.3l1.9 -1.9l1.9 1.9l-1.9 1.9zM1797.9 307.3l1.9 -1.9l1.9 1.9l-1.9 1.9zM1799.9 312.6l1.9 -1.9l1.9 1.9l-1.9 1.9zM1801.8 344.2l1.9 -1.9l1.9 1.9l-1.9 1.9zM1803.7 345.5l1.9 -1.9l1.9 1.9l-1.9 1.9zM1805.7 277.7l1.9 -1.9l1.9 1.9l-1.9 1.9zM1807.6 349.0l1.9 -1.9l1.9 1.9l-1.9 1.9zM1809.5 310.8l1.9 -1.9l1.9 1.9l-1.9 1.9zM1811.5 313.7l1.9 -1.9l1.9 1.9l-1.9 1.9zM1813.4 359.2l1.9 -1.9l1.9 1.9l-1.9 1.9zM1815.3 300.6l1.9 -1.9l1.9 1.9l-1.9 1.9zM1817.3 366.4l1.9 -1.9l1.9 1.9l-1.9 1.9zM1819.2 284.8l1.9 -1.9l1.9 1.9l-1.9 1.9zM1821.1 345.8l1.9 -1.9l1.9 1.9l-1.9 1.9zM1823.1 314.2l1.9 -1.9l1.9 1.9l-1.9 1.9zM1825.0 312.1l1.9 -1.9l1.9 1.9l-1.9 1.9zM1826.9 349.9l1.9 -1.9l1.9 1.9l-1.9 1.9zM1828.8 312.7l1.9 -1.9l1.9 1.9l-1.9 1.9zM1830.8 341.0l1.9 -1.9l1.9 1.9l-1.9 1.9zM1832.7 314.8l1.9 -1.9l1.9 1.9l-1.9 1.9zM1834.6 301.9l1.9 -1.9l1.9 1.9l-1.9 1.9zM1836.6 339.8l1.9 -1.9l1.9 1.9l-1.9 1.9zM1838.5 327.9l1.9 -1.9l1.9 1.9l-1.9 1.9zM1840.4 345.6l1.9 -1.9l1.9 1.9l-1.9 1.9zM1842.4 290.3l1.9 -1.9l1.9 1.9l-1.9 1.9zM1844.3 338.4l1.9 -1.9l1.9 1.9l-1.9 1.9zM1846.2 287.7l1.9 -1.9l1.9 1.9l-1.9 1.9zM1848.2 366.3l1.9 -1.9l1.9 1.9l-1.9 1.9zM1850.1 291.2l1.9 -1.9l1.9 1.9l-1.9 1.9zM1852.0 302.0l1.9 -1.9l1.9 1.9l-1.9 1.9zM1854.0 351.8l1.9 -1.9l1.9 1.9l-1.9 1.9zM1855.9 350.6l1.9 -1.9l1.9 1.9l-1.9 1.9zM1857.8 274.3l1.9 -1.9l1.9 1.9l-1.9 1.9zM1859.8 324.7l1.9 -1.9l1.9 1.9l-1.9 1.9zM1861.7 325.6l1.9 -1.9l1.9 1.9l-1.9 1.9zM1863.6 311.7l1.9 -1.9l1.9 1.9l-1.9 1.9zM1865.5 351.1l1.9 -1.9l1.9 1.9l-1.9 1.9zM1867.5 301.4l1.9 -1.9l1.9 1.9l-1.9 1.9zM1869.4 321.7l1.9 -1.9l1.9 1.9l-1.9 1.9zM1871.3 349.2l1.9 -1.9l1.9 1.9l-1.9 1.9zM1873.3 299.4l1.9 -1.9l1.9 1.9l-1.9 1.9zM1875.2 346.4l1.9 -1.9l1.9 1.9l-1.9 1.9zM1877.1 297.0l1.9 -1.9l1.9 1.9l-1.9 1.9zM1879.1 313.4l1.9 -1.9l1.9 1.9l-1.9 1.9zM1881.0 303.3l1.9 -1.9l1.9 1.9l-1.9 1.9zM1882.9 394.8l1.9 -1.9l1.9 1.9l-1.9 1.9zM1884.9 289.3l1.9 -1.9l1.9 1.9l-1.9 1.9zM1886.8 335.5l1.9 -1.9l1.9 1.9l-1.9 1.9zM1888.7 320.7l1.9 -1.9l1.9 1.9l-1.9 1.9zM1890.7 329.2l1.9 -1.9l1.9 1.9l-1.9 1.9zM1892.6 323.8l1.9 -1.9l1.9 1.9l-1.9 1.9zM1894.5 366.6l1.9 -1.9l1.9 1.9l-1.9 1.9zM1896.4 272.6l1.9 -1.9l1.9 1.9l-1.9 1.9zM1898.4 306.8l1.9 -1.9l1.9 1.9l-1.9 1.9zM1900.3 326.9l1.9 -1.9l1.9 1.9l-1.9 1.9zM1902.2 311.3l1.9 -1.9l1.9 1.9l-1.9 1.9zM1904.2 362.3l1.9 -1.9l1.9 1.9l-1.9 1.9zM1906.1 331.7l1.9 -1.9l1.9 1.9l-1.9 1.9zM1908.0 291.2l1.9 -1.9l1.9 1.9l-1.9 1.9zM1910.0 309.3l1.9 -1.9l1.9 1.9l-1.9 1.9zM1911.9 338.8l1.9 -1.9l1.9 1.9l-1.9 1.9zM1913.8 361.4l1.9 -1.9l1.9 1.9l-1.9 1.9zM1915.8 241.2l1.9 -1.9l1.9 1.9l-1.9 1.9zM1917.7 380.4l1.9 -1.9l1.9 1.9l-1.9 1.9zM1919.6 293.2l1.9 -1.9l1.9 1.9l-1.9 1.9zM1921.6 364.8l1.9 -1.9l1.9 1.9l-1.9 1.9zM1923.5 285.2l1.9 -1.9l1.9 1.9l-1.9 1.9zM1925.4 335.5l1.9 -1.9l1.9 1.9l-1.9 1.9zM1927.4 296.2l1.9 -1.9l1.9 1.9l-1.9 1.9zM1929.3 326.8l1.9 -1.9l1.9 1.9l-1.9 1.9zM1931.2 370.9l1.9 -1.9l1.9 1.9l-1.9 1.9zM1933.1 321.8l1.9 -1.9l1.9 1.9l-1.9 1.9zM1935.1 303.5l1.9 -1.9l1.9 1.9l-1.9 1.9zM1937.0 312.1l1.9 -1.9l1.9 1.9l-1.9 1.9zM1938.9 296.7l1.9 -1.9l1.9 1.9l-1.9 1.9zM1940.9 345.7l1.9 -1.9l1.9 1.9l-1.9 1.9zM1942.8 330.5l1.9 -1.9l1.9 1.9l-1.9 1.9zM1944.7 323.7l1.9 -1.9l1.9 1.9l-1.9 1.9zM1946.7 324.3l1.9 -1.9l1.9 1.9l-1.9 1.9zM1948.6 301.8l1.9 -1.9l1.9 1.9l-1.9 1.9z" fill="#000"/>
<line x1="962.0" y1="23.5" x2="1951.5" y2="23.5" stroke="#6e6e6e" stroke-width="1.6"/>
<line x1="1951.5" y1="23.5" x2="1951.5" y2="800.5" stroke="#444" stroke-width="1.6"/>
<line x1="962.0" y1="22.7" x2="962.0" y2="800.5" stroke="#000" stroke-width="2.2"/>
<line x1="962.0" y1="799.5" x2="1949.5" y2="799.5" stroke="#000" stroke-width="1.4"/>
<line x1="964" y1="801" x2="999" y2="801" stroke="#999" stroke-width="1.5"/>
<line x1="1945" y1="801.2" x2="1952" y2="801.2" stroke="#888" stroke-width="1.4"/>
<line x1="949" y1="90.5" x2="962.0" y2="90.5" stroke="#000" stroke-width="1.3"/>
<line x1="949" y1="254.5" x2="962.0" y2="254.5" stroke="#000" stroke-width="1.3"/>
<line x1="949" y1="420.5" x2="962.0" y2="420.5" stroke="#000" stroke-width="1.3"/>
<line x1="949" y1="584.5" x2="962.0" y2="584.5" stroke="#000" stroke-width="1.3"/>
<line x1="949" y1="751.6" x2="962.0" y2="751.6" stroke="#000" stroke-width="1.3"/>
<line x1="961.7" y1="799.5" x2="961.7" y2="807" stroke="#000" stroke-width="1.3"/>
<line x1="1156.5" y1="799.5" x2="1156.5" y2="815.8" stroke="#000" stroke-width="1.3"/>
<line x1="1351.3" y1="799.5" x2="1351.3" y2="815.8" stroke="#000" stroke-width="1.3"/>
<line x1="1546.1" y1="799.5" x2="1546.1" y2="815.8" stroke="#000" stroke-width="1.3"/>
<line x1="1740.9" y1="799.5" x2="1740.9" y2="815.8" stroke="#000" stroke-width="1.3"/>
<line x1="1935.7" y1="799.5" x2="1935.7" y2="815.8" stroke="#000" stroke-width="1.3"/>
<text x="806.4" y="108.4" font-size="50" font-family="'Liberation Sans', Arial, sans-serif">29000</text>
<text x="806.4" y="272.5" font-size="50" font-family="'Liberation Sans', Arial, sans-serif">28000</text>
<text x="806.4" y="438.4" font-size="50" font-family="'Liberation Sans', Arial, sans-serif">27000</text>
<text x="806.4" y="602.4" font-size="50" font-family="'Liberation Sans', Arial, sans-serif">26000</text>
<text x="806.4" y="769.7" font-size="50" font-family="'Liberation Sans', Arial, sans-serif">25000</text>
<text x="897.4" y="861.0" font-size="50" font-family="'Liberation Sans', Arial, sans-serif">-10.0</text>
<text x="1105.2" y="860.9" font-size="50" font-family="'Liberation Sans', Arial, sans-serif">-6.0</text>
<text x="1299.1" y="859.8" font-size="50" font-family="'Liberation Sans', Arial, sans-serif">-2.0</text>
<text x="1510.4" y="861.0" font-size="50" font-family="'Liberation Sans', Arial, sans-serif">2.0</text>
<text x="1706.8" y="860.2" font-size="50" font-family="'Liberation Sans', Arial, sans-serif">6.0</text>
<text x="1885.4" y="861.1" font-size="50" font-family="'Liberation Sans', Arial, sans-serif">10.0</text>
<text x="741.2" y="491.3" font-size="50" font-family="'Liberation Sans', Arial, sans-serif" transform="rotate(-90 741.2 491.3)">Counts</text>
<text x="1347.1" y="921.7" font-size="50" font-family="'Liberation Sans', Arial, sans-serif"><tspan font-style="italic">v</tspan><tspan dx="-1.3">/(mm</tspan><tspan dx="-0.8">·</tspan><tspan dx="-1.2">s</tspan><tspan font-size="33" dx="-1" dy="-14">-</tspan><tspan font-size="33" dy="-3">1</tspan><tspan dy="17">)</tspan></text>
<text x="729.5" y="78.9" font-size="50" font-family="'Liberation Sans', Arial, sans-serif">(b)</text>
<text x="12.3" y="69.0" font-size="50" font-family="'Liberation Sans', Arial, sans-serif">(a)</text>
<ellipse cx="331.7" cy="483.2" rx="11.2" ry="10.2" fill="#ff8010"/>
<path d="M317.5 491.5 A16.3 16.3 0 0 0 322.5 497.5 M341.5 470.5 A16.3 16.3 0 0 1 346.5 476.5" fill="none" stroke="#ff8010" stroke-width="2"/>
<path d="M324 478.2 L332 477.6 M322.5 482 L330 481.5 M324 485.5 L328.5 484.5 M336.2 479 L336.2 487" stroke="#fff" stroke-width="1.1" fill="none"/>
<ellipse cx="366.4" cy="192.3" rx="22.8" ry="15.1" transform="rotate(22 366.4 192.3)" fill="none" stroke="#12ea12" stroke-width="2.7"/>
<clipPath id="c1"><path d="M348.6 189 C350 184 353 181.5 356.7 181 C360 179.5 363 179 366.2 179 C369 179.3 371.5 180.5 373.3 182.4 C377 188 379.5 193 380.5 198.6 C376 200.5 372 201.2 368.6 201 C364 200.5 361 199.8 358 198.6 C354 197.5 351 196.8 349.5 195.7 Z"/></clipPath><g clip-path="url(#c1)"><path d="M348.6 189 C350 184 353 181.5 356.7 181 C360 179.5 363 179 366.2 179 C369 179.3 371.5 180.5 373.3 182.4 C377 188 379.5 193 380.5 198.6 C376 200.5 372 201.2 368.6 201 C364 200.5 361 199.8 358 198.6 C354 197.5 351 196.8 349.5 195.7 Z" fill="#12ea12"/><path d="M338.7 164.8L389.3 164.8M338.7 167.9L389.3 167.9M338.7 171.0L389.3 171.0M338.7 174.1L389.3 174.1M338.7 177.2L389.3 177.2M338.7 180.3L389.3 180.3M338.7 183.4L389.3 183.4M338.7 186.5L389.3 186.5M338.7 189.6L389.3 189.6M338.7 192.7L389.3 192.7M338.7 195.8L389.3 195.8M338.7 198.9L389.3 198.9M338.7 202.0L389.3 202.0M338.7 205.1L389.3 205.1M338.7 208.2L389.3 208.2M338.7 211.3L389.3 211.3M338.7 214.4L389.3 214.4" stroke="#fff" stroke-width="0.9" fill="none"/></g>
<path d="M369.5 181 L369.5 199 M372.4 182 L372.4 200 M375.2 184 L375.5 199.5" stroke="#fff" stroke-width="0.9" fill="none"/>
<path d="M355 181.5 C360 178.5 368 178 373.3 182.4 C377 188 379.5 193 380.5 198.6 C376 201 368 201.5 358 198.6 C353 197.5 350 196.5 348.6 194" fill="none" stroke="#12ea12" stroke-width="2"/>
<path d="M380.5 199 C383 199.5 386 198.5 388.5 197 M349 196 C347 194.5 345 192 344.5 190" fill="none" stroke="#12ea12" stroke-width="2"/>
<clipPath id="c2"><path d="M233.6 358.2 C244 358.4 253 364 256.6 372 L257 377.5 L233.6 377.5 Z"/></clipPath><g clip-path="url(#c2)"><path d="M233.6 358.2 C244 358.4 253 364 256.6 372 L257 377.5 L233.6 377.5 Z" fill="#12ea12"/><path d="M222.8 347.5L267.2 347.5M222.8 351.7L267.2 351.7M222.8 355.9L267.2 355.9M222.8 360.1L267.2 360.1M222.8 364.3L267.2 364.3M222.8 368.5L267.2 368.5M222.8 372.7L267.2 372.7M222.8 376.9L267.2 376.9M222.8 381.1L267.2 381.1M222.8 385.3L267.2 385.3M222.8 389.5L267.2 389.5" stroke="#fff" stroke-width="1.1" fill="none"/></g>
<ellipse cx="234.5" cy="376.2" rx="22.5" ry="18.1" transform="rotate(0 234.5 376.2)" fill="none" stroke="#12ea12" stroke-width="2.7"/>
<path d="M233.6 357.5 L233.6 395 M212 378.5 C220 380 227 381.5 234 381.5" fill="none" stroke="#12ea12" stroke-width="2.4"/>
<path d="M246 384 L250 381 M252 384 L255 380" fill="none" stroke="#12ea12" stroke-width="1.6"/>
<clipPath id="c3"><path d="M29 521 C27 508 33 499 45.5 498 L51.5 524 C44 525.5 36 525.5 29 523.5 Z"/></clipPath><g clip-path="url(#c3)"><path d="M29 521 C27 508 33 499 45.5 498 L51.5 524 C44 525.5 36 525.5 29 523.5 Z" fill="#12ea12"/><path d="M63.1 487.1L63.1 534.9M59.1 487.1L59.1 534.9M55.1 487.1L55.1 534.9M51.1 487.1L51.1 534.9M47.1 487.1L47.1 534.9M43.1 487.1L43.1 534.9M39.1 487.1L39.1 534.9M35.1 487.1L35.1 534.9M31.1 487.1L31.1 534.9M27.1 487.1L27.1 534.9M23.1 487.1L23.1 534.9M19.1 487.1L19.1 534.9" stroke="#fff" stroke-width="1.1" fill="none"/></g>
<ellipse cx="43" cy="517.6" rx="15.4" ry="19.7" transform="rotate(0 43 517.6)" fill="none" stroke="#12ea12" stroke-width="2.7"/>
<path d="M29 523.5 C36 526.5 46 527 58.5 521.5 M51.5 524.4 L50.2 537.5 M45.5 498 L51.5 524" fill="none" stroke="#12ea12" stroke-width="2.3"/>
<clipPath id="c4"><path d="M427.5 620.5 C428 606 435 595 450.8 589.5 L461 620.8 C450 623 438 623 427.5 620.5 Z"/></clipPath><g clip-path="url(#c4)"><path d="M427.5 620.5 C428 606 435 595 450.8 589.5 L461 620.8 C450 623 438 623 427.5 620.5 Z" fill="#12ea12"/><path d="M406.5 588.2L460.8 568.5M408.0 592.4L462.3 572.6M409.5 596.5L463.8 576.8M411.0 600.6L465.3 580.9M412.5 604.8L466.8 585.0M414.0 608.9L468.3 589.2M415.5 613.0L469.8 593.3M417.0 617.2L471.3 597.4M418.5 621.3L472.8 601.6M420.0 625.5L474.3 605.7M421.5 629.6L475.8 609.8M423.0 633.7L477.3 614.0M424.5 637.9L478.8 618.1M426.0 642.0L480.3 622.2" stroke="#fff" stroke-width="1.1" fill="none"/></g>
<path d="M452 592 L452 618 M456 593 L457 618" stroke="#fff" stroke-width="1" fill="none"/>
<ellipse cx="448.5" cy="613" rx="22.7" ry="23.5" transform="rotate(0 448.5 613)" fill="none" stroke="#12ea12" stroke-width="2.7"/>
<path d="M426.2 620 C436 623.5 456 623.5 470.3 615.7 M461 620.8 L463 631 M450.8 589.5 L461 620.8" fill="none" stroke="#12ea12" stroke-width="2.3"/>
<clipPath id="c5"><path d="M325 752 C328 745 334 740 340 739.6 C346 741 351 747 354 754.5 C350 759 346 761 341.5 761 C334 760 328 757 325 752 Z"/></clipPath><g clip-path="url(#c5)"><path d="M325 752 C328 745 334 740 340 739.6 C346 741 351 747 354 754.5 C350 759 346 761 341.5 761 C334 760 328 757 325 752 Z" fill="#12ea12"/><path d="M339.5 716.3L373.2 750.0M336.5 719.3L370.2 753.0M333.6 722.3L367.2 755.9M330.6 725.3L364.2 758.9M327.6 728.2L361.3 761.9M324.7 731.2L358.3 764.8M321.7 734.2L355.3 767.8M318.7 737.1L352.4 770.8M315.7 740.1L349.4 773.8M312.8 743.1L346.4 776.7M309.8 746.0L343.5 779.7M306.8 749.0L340.5 782.7" stroke="#fff" stroke-width="1.1" fill="none"/></g>
<path d="M332.6 734.2 C324 736 319.6 742 320.2 750 C321 759 330 764.5 341 764.5 C352 764.5 361.3 758 361.3 749.5 C361.3 742 356 736.5 348.9 734.2" fill="none" stroke="#12ea12" stroke-width="2.7"/>
<path d="M326 757 C332 762.5 346 763 353 760" fill="none" stroke="#12ea12" stroke-width="2"/>
<clipPath id="c6"><path d="M565.4 448 C569 443 576 442 583 444.5 C591 448 596.5 456 597.5 464 C596 468 591 470.5 585 470.5 C576 470 568 467 565 462 Z"/></clipPath><g clip-path="url(#c6)"><path d="M565.4 448 C569 443 576 442 583 444.5 C591 448 596.5 456 597.5 464 C596 468 591 470.5 585 470.5 C576 470 568 467 565 462 Z" fill="#ff1010"/><path d="M602.2 425.5L611.5 478.2M598.9 426.1L608.2 478.8M595.5 426.6L604.8 479.4M592.2 427.2L601.5 480.0M588.8 427.8L598.1 480.6M585.5 428.4L594.8 481.2M582.1 429.0L591.4 481.8M578.8 429.6L588.1 482.4M575.4 430.2L584.7 483.0M572.1 430.8L581.4 483.5M568.7 431.4L578.1 484.1M565.4 432.0L574.7 484.7M562.1 432.6L571.4 485.3M558.7 433.1L568.0 485.9M555.4 433.7L564.7 486.5M552.0 434.3L561.3 487.1" stroke="#fff" stroke-width="1.0" fill="none"/></g>
<ellipse cx="581.5" cy="459.5" rx="18.5" ry="15.5" transform="rotate(40 581.5 459.5)" fill="none" stroke="#ff1010" stroke-width="2.3"/>
<path d="M555.5 451 C555 443 561 438.5 569 438.5 C573 438.5 577 439.5 580 441" fill="none" stroke="#ff1010" stroke-width="2.3"/>
<path d="M566 466.5 C572 470 582 472 592 471" fill="none" stroke="#fff" stroke-width="1.6"/>
<polygon points="341.9,475.3 372.9,207.9 356.1,206.1 328.1,473.7" fill="#000"/>
<polygon points="326.9,466.5 242.8,377.2 234.4,385.0 315.5,476.9" fill="#000"/>
<polygon points="319.7,480.3 56.5,508.2 58.3,524.2 321.3,494.5" fill="#000"/>
<polygon points="348.4,491.3 566.1,466.5 564.7,453.1 346.6,474.5" fill="#000"/>
<polygon points="324.9,499.5 333.6,739.8 346.0,739.4 341.1,499.1" fill="#000"/>
<polygon points="333.7,493.0 366.5,532.2 375.5,523.8 339.3,488.0" fill="#000" stroke="#fff" stroke-width="1.8"/>
<polygon points="333.7,493.0 427.7,604.2 442.0,591.0 339.3,488.0" fill="#000"/>
<circle cx="633.5" cy="375.4" r="14.6" fill="#fff" stroke="#000" stroke-width="2.3"/>
<circle cx="620.5" cy="527.3" r="14.6" fill="#fff" stroke="#000" stroke-width="2.3"/>
<polygon points="588.6,447.4 625.7,390.1 622.3,387.9 584.4,444.6" fill="#000"/>
<polygon points="586.9,477.6 611.8,518.2 615.6,516.0 590.9,475.2" fill="#000"/>
<text x="392.1" y="195.8" font-size="41.8" font-family="'Liberation Sans', Arial, sans-serif" letter-spacing="0">Cl(2)</text>
<text x="105.2" y="365.0" font-size="41.8" font-family="'Liberation Sans', Arial, sans-serif" letter-spacing="0">Cl(1)</text>
<text x="359.5" y="453.7" font-size="41.8" font-family="'Liberation Sans', Arial, sans-serif" letter-spacing="0">Fe(1)</text>
<text x="30.2" y="578.7" font-size="41.8" font-family="'Liberation Sans', Arial, sans-serif" letter-spacing="0">Cl(3)</text>
<text x="512.1" y="359.2" font-size="41.8" font-family="'Liberation Sans', Arial, sans-serif" letter-spacing="0">H(1a)</text>
<text x="506.0" y="511.7" font-size="41.8" font-family="'Liberation Sans', Arial, sans-serif" letter-spacing="0">O(1)</text>
<text x="476.0" y="641.6" font-size="41.8" font-family="'Liberation Sans', Arial, sans-serif" letter-spacing="0">Cl(4)</text>
<text x="646.7" y="546.8" font-size="41.8" font-family="'Liberation Sans', Arial, sans-serif" letter-spacing="0">H(1a<tspan font-size="28" dy="-13">i</tspan><tspan dy="13">)</tspan></text>
<text x="379.5" y="747.8" font-size="41.8" font-family="'Liberation Sans', Arial, sans-serif" letter-spacing="0">Cl(2<tspan font-size="28" dy="-13">i</tspan><tspan dy="13">)</tspan></text>
</svg>
</body></html>
